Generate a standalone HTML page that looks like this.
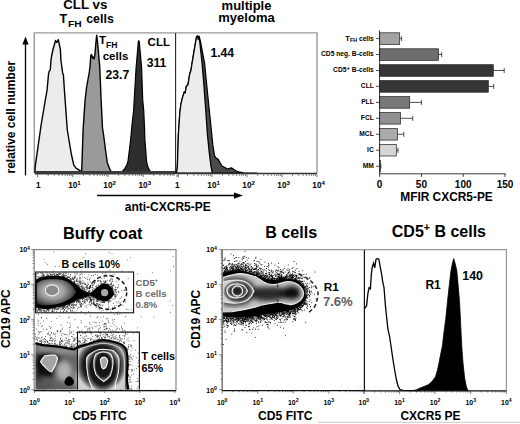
<!DOCTYPE html>
<html><head><meta charset="utf-8"><style>html,body{margin:0;padding:0;background:#fff;width:520px;height:424px;overflow:hidden}svg{display:block}svg text{font-family:"Liberation Sans",sans-serif}</style></head><body>
<svg width="520" height="424" viewBox="0 0 520 424">
<rect width="520" height="424" fill="#fff"/>
<g font-family="Liberation Sans, sans-serif" font-weight="bold">
<text x="85.3" y="9.4" font-size="13.30" text-anchor="middle" fill="#000" >CLL vs</text>
<text x="59.6" y="22.5" font-size="12.6" font-family="Liberation Sans, sans-serif" font-weight="bold">T</text><text x="68" y="26.8" font-size="9.6" font-family="Liberation Sans, sans-serif" font-weight="bold" textLength="13.6" lengthAdjust="spacingAndGlyphs">FH</text><text x="86.2" y="22.5" font-size="12.6" font-family="Liberation Sans, sans-serif" font-weight="bold" textLength="27.6" lengthAdjust="spacingAndGlyphs">cells</text>
<text x="246.5" y="9.5" font-size="13.00" text-anchor="middle" fill="#000" >multiple</text>
<text x="246.5" y="22.1" font-size="13.00" text-anchor="middle" fill="#000" >myeloma</text>
<text transform="translate(14.9,173.5) rotate(-90)" font-size="12" font-family="Liberation Sans, sans-serif" font-weight="bold">relative cell number</text>
<path d="M25.5 43v132.4" stroke="#000" stroke-width="1.3"/>
<path d="M22.4 44.5L25.5 36.4L28.6 44.5Z" fill="#000"/>
<path d="M34.3 173V32.9H317V173" fill="none" stroke="#999" stroke-width="1.4"/>
<polygon points="35.0,172.8 35.0,169.8 35.5,164.3 40.4,130.0 41.2,124.5 45.3,100.0 47.1,90.0 48.5,74.2 49.2,71.3 50.3,69.9 51.0,60.0 51.6,56.0 53.0,49.5 55.6,40.5 56.8,42.5 58.3,39.6 60.4,49.5 60.9,60.0 62.1,69.0 62.6,72.7 63.4,74.9 64.4,90.0 65.2,101.0 67.3,130.0 71.4,154.5 73.8,165.1 76.0,168.2 80.4,170.8 81.0,172.8" fill="#ececec" stroke="#000" stroke-width="1.4" stroke-linejoin="round"/>
<polygon points="81.4,172.8 81.7,170.8 83.1,130.0 84.0,116.0 85.1,100.0 86.5,88.0 88.4,77.0 88.8,75.5 89.3,72.0 90.1,66.0 90.8,55.4 91.6,54.6 92.5,58.0 93.3,57.1 94.2,58.8 95.0,53.7 95.9,42.7 96.7,35.1 97.6,42.7 98.3,50.0 98.8,57.1 99.7,66.0 100.3,80.0 101.1,100.0 102.5,128.0 103.6,135.0 105.5,150.0 107.3,162.7 109.8,169.2 111.1,171.5 112.0,172.8" fill="#9a9a9a" stroke="#000" stroke-width="1.4" stroke-linejoin="round"/>
<polygon points="121.0,172.8 124.8,168.6 127.0,164.5 128.0,161.2 129.4,150.0 130.6,140.0 132.0,125.0 133.7,110.0 134.2,100.0 136.1,67.7 138.3,42.0 138.8,40.6 139.3,42.0 141.6,67.7 142.7,100.0 143.7,110.0 144.4,125.0 144.9,140.0 145.7,150.0 146.5,161.2 147.3,165.0 148.6,168.6 151.0,172.8" fill="#2e2e2e" stroke="#000" stroke-width="1.2" stroke-linejoin="round"/>
<path d="M35 172.7H175.5" stroke="#3a3a3a" stroke-width="3.4"/>
<path d="M175.6 32.9V174" stroke="#222" stroke-width="1.1"/>
<polygon points="176.3,173.2 177.3,168.0 178.4,134.3 179.8,113.0 180.9,104.2 182.6,97.1 184.4,91.8 185.2,93.0 186.2,86.5 188.0,84.7 189.7,74.0 191.0,70.0 192.6,59.9 195.0,45.7 196.5,37.0 197.5,35.8 198.3,39.5 199.2,36.4 201.0,44.0 204.6,63.4 207.4,91.8 210.3,120.1 212.8,144.9 214.5,155.6 216.0,158.0 218.0,159.1 220.0,162.5 222.0,166.0 225.0,167.5 227.1,169.0 231.4,167.8 235.7,170.8 240.0,172.2 244.4,173.0 256.5,173.2" fill="#4a4a4a" stroke="#000" stroke-width="1.2" stroke-linejoin="round"/>
<polygon points="176.3,173.2 177.3,168.0 178.4,134.3 179.8,113.0 180.9,104.2 182.6,97.1 184.4,91.8 185.2,93.0 186.2,86.5 188.0,84.7 189.7,74.0 191.0,70.0 192.6,59.9 195.0,45.7 196.5,37.0 197.5,35.8 198.3,39.5 199.2,36.4 200.0,44.0 202.1,63.4 203.9,84.7 205.7,109.5 207.4,134.3 209.2,152.0 211.0,166.2 212.3,173.2" fill="#ececec" stroke="#000" stroke-width="1.3" stroke-linejoin="round"/>
<path d="M176 173.4H317" stroke="#333" stroke-width="1.5"/>
<text x="98.9" y="44.2" font-size="11.5" font-family="Liberation Sans, sans-serif" font-weight="bold">T<tspan font-size="8.6" dy="4">FH</tspan></text>
<text x="115.5" y="59.8" font-size="11.50" text-anchor="middle" fill="#000" >cells</text>
<text x="117.4" y="79.4" font-size="12.20" text-anchor="middle" fill="#000" >23.7</text>
<text x="158.8" y="45.6" font-size="11.50" text-anchor="middle" fill="#000" >CLL</text>
<text x="156.5" y="66.5" font-size="12.20" text-anchor="middle" fill="#000" >311</text>
<text x="222.3" y="57.0" font-size="12.20" text-anchor="middle" fill="#000" >1.44</text>
<path d="M37.60 174.40v2.80M48.20 174.40v1.50M54.39 174.40v1.50M58.79 174.40v1.50M62.20 174.40v1.50M64.99 174.40v1.50M67.35 174.40v1.50M69.39 174.40v1.50M71.19 174.40v1.50M72.80 174.40v2.80M83.40 174.40v1.50M89.59 174.40v1.50M93.99 174.40v1.50M97.40 174.40v1.50M100.19 174.40v1.50M102.55 174.40v1.50M104.59 174.40v1.50M106.39 174.40v1.50M108.00 174.40v2.80M118.60 174.40v1.50M124.79 174.40v1.50M129.19 174.40v1.50M132.60 174.40v1.50M135.39 174.40v1.50M137.75 174.40v1.50M139.79 174.40v1.50M141.59 174.40v1.50M143.20 174.40v2.80M153.80 174.40v1.50M159.99 174.40v1.50M164.39 174.40v1.50M167.80 174.40v1.50M170.59 174.40v1.50M172.95 174.40v1.50M174.99 174.40v1.50M176.79 174.40v1.50M178.40 174.40v2.80" stroke="#333" stroke-width="0.70" fill="none"/>
<rect x="175" y="174" width="2" height="4" fill="#fff"/>
<path d="M177.00 174.40v2.80M187.54 174.40v1.50M193.70 174.40v1.50M198.07 174.40v1.50M201.46 174.40v1.50M204.24 174.40v1.50M206.58 174.40v1.50M208.61 174.40v1.50M210.40 174.40v1.50M212.00 174.40v2.80M222.54 174.40v1.50M228.70 174.40v1.50M233.07 174.40v1.50M236.46 174.40v1.50M239.24 174.40v1.50M241.58 174.40v1.50M243.61 174.40v1.50M245.40 174.40v1.50M247.00 174.40v2.80M257.54 174.40v1.50M263.70 174.40v1.50M268.07 174.40v1.50M271.46 174.40v1.50M274.24 174.40v1.50M276.58 174.40v1.50M278.61 174.40v1.50M280.40 174.40v1.50M282.00 174.40v2.80M292.54 174.40v1.50M298.70 174.40v1.50M303.07 174.40v1.50M306.46 174.40v1.50M309.24 174.40v1.50M311.58 174.40v1.50M313.61 174.40v1.50M315.40 174.40v1.50M317.00 174.40v2.80" stroke="#333" stroke-width="0.70" fill="none"/>
<text x="74.4" y="188.2" font-size="8.20" text-anchor="middle" font-family="Liberation Sans, sans-serif" font-weight="bold">10<tspan dy="-3.3" font-size="6.15">1</tspan></text>
<text x="109.6" y="188.2" font-size="8.20" text-anchor="middle" font-family="Liberation Sans, sans-serif" font-weight="bold">10<tspan dy="-3.3" font-size="6.15">2</tspan></text>
<text x="144.8" y="188.2" font-size="8.20" text-anchor="middle" font-family="Liberation Sans, sans-serif" font-weight="bold">10<tspan dy="-3.3" font-size="6.15">3</tspan></text>
<text x="38.2" y="188.2" font-size="8.20" text-anchor="middle" fill="#000" >1</text>
<text x="213.6" y="188.2" font-size="8.20" text-anchor="middle" font-family="Liberation Sans, sans-serif" font-weight="bold">10<tspan dy="-3.3" font-size="6.15">1</tspan></text>
<text x="248.6" y="188.2" font-size="8.20" text-anchor="middle" font-family="Liberation Sans, sans-serif" font-weight="bold">10<tspan dy="-3.3" font-size="6.15">2</tspan></text>
<text x="283.6" y="188.2" font-size="8.20" text-anchor="middle" font-family="Liberation Sans, sans-serif" font-weight="bold">10<tspan dy="-3.3" font-size="6.15">3</tspan></text>
<text x="318.6" y="188.2" font-size="8.20" text-anchor="middle" font-family="Liberation Sans, sans-serif" font-weight="bold">10<tspan dy="-3.3" font-size="6.15">4</tspan></text>
<text x="177.4" y="188.2" font-size="8.20" text-anchor="middle" fill="#000" >1</text>
<path d="M97 195.6H236" stroke="#000" stroke-width="1.5"/>
<path d="M234 192.4L243 195.6L234 198.8Z" fill="#000"/>
<text x="167.8" y="210.5" font-size="12.00" text-anchor="middle" fill="#000" >anti-CXCR5-PE</text>
<rect x="379.6" y="32.8" width="20.1" height="11.6" fill="#a2a2a2" stroke="#222" stroke-width="0.7"/>
<path d="M399.7 38.6H401.6M401.6 36.1v5.0" stroke="#222" stroke-width="0.8"/>
<path d="M376 38.6H379.6" stroke="#222" stroke-width="0.8"/>
<text x="373.8" y="40.5" font-size="6.7" text-anchor="end" font-family="Liberation Sans, sans-serif" font-weight="bold"><tspan font-size="7.6">T</tspan><tspan font-size="5.4" dy="1.9">FH</tspan><tspan dy="-1.9"> cells</tspan></text>
<rect x="379.6" y="48.8" width="58.9" height="11.6" fill="#6e6e6e" stroke="#222" stroke-width="0.7"/>
<path d="M438.5 54.5H441.7M441.7 52.0v5.0" stroke="#222" stroke-width="0.8"/>
<path d="M376 54.5H379.6" stroke="#222" stroke-width="0.8"/>
<text x="373.8" y="56.4" font-size="6.7" text-anchor="end" font-family="Liberation Sans, sans-serif" font-weight="bold">CD5 neg. B-cells</text>
<rect x="379.6" y="64.7" width="113.7" height="11.6" fill="#363636" stroke="#222" stroke-width="0.7"/>
<path d="M493.3 70.5H504.2M504.2 68.0v5.0" stroke="#222" stroke-width="0.8"/>
<path d="M376 70.5H379.6" stroke="#222" stroke-width="0.8"/>
<text x="373.8" y="72.4" font-size="6.7" text-anchor="end" font-family="Liberation Sans, sans-serif" font-weight="bold">CD5<tspan font-size="6" dy="-2.4">+</tspan><tspan dy="2.4"> B-cells</tspan></text>
<rect x="379.6" y="80.6" width="108.7" height="11.6" fill="#363636" stroke="#222" stroke-width="0.7"/>
<path d="M488.3 86.4H493.7M493.7 83.9v5.0" stroke="#222" stroke-width="0.8"/>
<path d="M376 86.4H379.6" stroke="#222" stroke-width="0.8"/>
<text x="373.8" y="88.3" font-size="6.7" text-anchor="end" font-family="Liberation Sans, sans-serif" font-weight="bold">CLL</text>
<rect x="379.6" y="96.6" width="30.1" height="11.6" fill="#787878" stroke="#222" stroke-width="0.7"/>
<path d="M409.7 102.4H421.4M421.4 99.9v5.0" stroke="#222" stroke-width="0.8"/>
<path d="M376 102.4H379.6" stroke="#222" stroke-width="0.8"/>
<text x="373.8" y="104.3" font-size="6.7" text-anchor="end" font-family="Liberation Sans, sans-serif" font-weight="bold">PLL</text>
<rect x="379.6" y="112.5" width="20.9" height="11.6" fill="#909090" stroke="#222" stroke-width="0.7"/>
<path d="M400.5 118.3H412.7M412.7 115.8v5.0" stroke="#222" stroke-width="0.8"/>
<path d="M376 118.3H379.6" stroke="#222" stroke-width="0.8"/>
<text x="373.8" y="120.2" font-size="6.7" text-anchor="end" font-family="Liberation Sans, sans-serif" font-weight="bold">FCL</text>
<rect x="379.6" y="128.5" width="18.0" height="11.6" fill="#aaaaaa" stroke="#222" stroke-width="0.7"/>
<path d="M397.6 134.3H403.8M403.8 131.8v5.0" stroke="#222" stroke-width="0.8"/>
<path d="M376 134.3H379.6" stroke="#222" stroke-width="0.8"/>
<text x="373.8" y="136.2" font-size="6.7" text-anchor="end" font-family="Liberation Sans, sans-serif" font-weight="bold">MCL</text>
<rect x="379.6" y="144.4" width="16.7" height="11.6" fill="#d6d6d6" stroke="#222" stroke-width="0.7"/>
<path d="M396.3 150.2H398.0M398.0 147.8v5.0" stroke="#222" stroke-width="0.8"/>
<path d="M376 150.2H379.6" stroke="#222" stroke-width="0.8"/>
<text x="373.8" y="152.2" font-size="6.7" text-anchor="end" font-family="Liberation Sans, sans-serif" font-weight="bold">IC</text>
<rect x="379.6" y="160.4" width="1.0" height="11.6" fill="#eee" stroke="#222" stroke-width="0.7"/>
<path d="M380.6 166.2H380.9M380.9 163.7v5.0" stroke="#222" stroke-width="0.8"/>
<path d="M376 166.2H379.6" stroke="#222" stroke-width="0.8"/>
<text x="373.8" y="168.1" font-size="6.7" text-anchor="end" font-family="Liberation Sans, sans-serif" font-weight="bold">MM</text>
<path d="M379.6 30.4V173.8H505.6" fill="none" stroke="#222" stroke-width="0.9"/>
<path d="M379.6 173.8v3" stroke="#222" stroke-width="0.9"/>
<text x="379.6" y="187.6" font-size="10.00" text-anchor="middle" fill="#000" >0</text>
<path d="M421.4 173.8v3" stroke="#222" stroke-width="0.9"/>
<text x="421.4" y="187.6" font-size="10.00" text-anchor="middle" fill="#000" >50</text>
<path d="M463.2 173.8v3" stroke="#222" stroke-width="0.9"/>
<text x="463.2" y="187.6" font-size="10.00" text-anchor="middle" fill="#000" >100</text>
<path d="M505.0 173.8v3" stroke="#222" stroke-width="0.9"/>
<text x="505.0" y="187.6" font-size="10.00" text-anchor="middle" fill="#000" >150</text>
<text x="446.5" y="201.3" font-size="11.90" text-anchor="middle" fill="#000" >MFIR CXCR5-PE</text>
<text x="102.7" y="238.5" font-size="16.30" text-anchor="middle" fill="#000" >Buffy coat</text>
<text transform="translate(9.8,347.9) rotate(-90)" font-size="11.9" font-family="Liberation Sans, sans-serif" font-weight="bold">CD19 APC</text>
<text x="99.6" y="420.0" font-size="12.10" text-anchor="middle" fill="#000" >CD5 FITC</text>
<text x="285.3" y="420.0" font-size="12.10" text-anchor="middle" fill="#000" >CD5 FITC</text>
<text transform="translate(200.3,348.3) rotate(-90)" font-size="11.9" font-family="Liberation Sans, sans-serif" font-weight="bold">CD19 APC</text>
<text x="430.4" y="419.6" font-size="12.00" text-anchor="middle" fill="#000" >CXCR5 PE</text>
<text x="291.2" y="238.3" font-size="16.10" text-anchor="middle" fill="#000" >B cells</text>
<text x="391.8" y="236.8" font-size="16" font-family="Liberation Sans, sans-serif" font-weight="bold">CD5<tspan font-size="10.5" dy="-5.8">+</tspan><tspan dy="5.8"> B cells</tspan></text>
<rect x="34.2" y="249.6" width="141.8" height="140.9" fill="none" stroke="#888" stroke-width="1.2"/>
<path d="M34.2 390.6H176" stroke="#111" stroke-width="1.3"/>
<path d="M222.2 391V249.6H506.4V391" fill="none" stroke="#999" stroke-width="1.2"/>
<path d="M318 422.3H520" stroke="#c4c4c4" stroke-width="0.9"/>
<defs>
<radialGradient id="gL" cx="0.3" cy="0.5" r="0.62"><stop offset="0" stop-color="#c4c4c4"/><stop offset="0.3" stop-color="#a0a0a0"/><stop offset="0.62" stop-color="#555"/><stop offset="0.85" stop-color="#1c1c1c"/><stop offset="1" stop-color="#000"/></radialGradient>
<radialGradient id="gLow" cx="0.5" cy="0.55" r="0.6"><stop offset="0" stop-color="#9a9a9a"/><stop offset="0.7" stop-color="#5a5a5a"/><stop offset="1" stop-color="#222"/></radialGradient>
<radialGradient id="gT" cx="0.5" cy="0.45" r="0.55"><stop offset="0" stop-color="#a0a0a0"/><stop offset="0.6" stop-color="#555"/><stop offset="1" stop-color="#202020"/></radialGradient>
<radialGradient id="gR" cx="0.5" cy="0.5" r="0.5"><stop offset="0" stop-color="#333"/><stop offset="0.6" stop-color="#666"/><stop offset="1" stop-color="#bbb"/></radialGradient>
<radialGradient id="gBl" cx="0.45" cy="0.5" r="0.6"><stop offset="0" stop-color="#c8c8c8"/><stop offset="0.55" stop-color="#8a8a8a"/><stop offset="1" stop-color="#3a3a3a"/></radialGradient>
<radialGradient id="sc" cx="0.5" cy="0.5" r="0.5"><stop offset="0" stop-color="#1c1c1c"/><stop offset="0.6" stop-color="#2a2a2a"/><stop offset="0.85" stop-color="#6a6a6a"/><stop offset="1" stop-color="#d0d0d0"/></radialGradient>
<radialGradient id="sc2" cx="0.5" cy="0.5" r="0.5"><stop offset="0" stop-color="#2a2a2a"/><stop offset="0.5" stop-color="#555"/><stop offset="0.85" stop-color="#aaa"/><stop offset="1" stop-color="#ccc" stop-opacity="0"/></radialGradient>
<radialGradient id="sc3" cx="0.5" cy="0.45" r="0.55"><stop offset="0" stop-color="#111"/><stop offset="0.7" stop-color="#181818"/><stop offset="0.86" stop-color="#666"/><stop offset="1" stop-color="#d0d0d0"/></radialGradient>
<filter id="bl3" x="-20%" y="-20%" width="140%" height="140%"><feGaussianBlur stdDeviation="2.6"/></filter>
<filter id="bl1" x="-20%" y="-20%" width="140%" height="140%"><feGaussianBlur stdDeviation="1.2"/></filter>
<radialGradient id="gUL" cx="0.4" cy="0.45" r="0.6"><stop offset="0" stop-color="#b8b8b8"/><stop offset="0.45" stop-color="#a6a6a6"/><stop offset="0.75" stop-color="#6a6a6a"/><stop offset="1" stop-color="#2a2a2a"/></radialGradient>
</defs>
<path d="M71.1 302.6h0.8M80.6 288.2h0.8M43.2 310.1h0.8M36.7 307.2h0.8M79.9 274.5h0.8M51.9 274.3h0.8M37.7 273.0h0.8M65.8 273.3h0.8M60.2 306.5h0.8M39.0 309.5h0.8M70.1 306.8h0.8M94.7 293.6h0.8M41.6 273.7h0.8M80.4 286.9h0.8M73.1 278.7h0.8M106.7 299.0h0.8M75.6 301.2h0.8M75.4 300.1h0.8M39.4 278.1h0.8M87.9 292.4h0.8M77.6 286.0h0.8M50.1 274.0h0.8M100.7 290.1h0.8M82.7 301.6h0.8M73.8 278.3h0.8M80.6 307.4h0.8M105.1 289.2h0.8M51.0 276.5h0.8M37.7 273.8h0.8M68.0 279.6h0.8M72.9 305.1h0.8M40.0 277.2h0.8M95.9 305.6h0.8M99.1 304.3h0.8M101.7 300.2h0.8M61.9 305.5h0.8M64.9 273.0h0.8M71.4 305.4h0.8M94.4 293.0h0.8M80.1 305.1h0.8M101.0 287.3h0.8M79.4 304.2h0.8M67.5 277.8h0.8M66.9 305.1h0.8M35.6 273.8h0.8M63.1 273.7h0.8M86.8 289.8h0.8M66.4 307.8h0.8M62.2 275.0h0.8M39.5 308.0h0.8M54.8 307.1h0.8M77.6 285.4h0.8M54.1 275.5h0.8M48.0 309.3h0.8M70.1 278.6h0.8M50.3 308.8h0.8M63.2 311.7h0.8M64.9 305.6h0.8M73.6 282.1h0.8M91.6 291.4h0.8M100.7 289.4h0.8M92.7 296.9h0.8M40.6 309.9h0.8M81.8 274.4h0.8M87.5 277.2h0.8M98.3 305.0h0.8M74.7 277.8h0.8M65.0 308.5h0.8M59.2 308.1h0.8M81.7 282.9h0.8M37.4 307.5h0.8M68.5 305.7h0.8M98.5 286.1h0.8M72.6 312.0h0.8M57.3 274.8h0.8M90.9 275.4h0.8M52.8 274.1h0.8M76.0 304.5h0.8M54.3 311.1h0.8M82.4 283.3h0.8M43.8 276.0h0.8M86.2 299.5h0.8M80.2 298.3h0.8M52.9 307.9h0.8M74.2 273.2h0.8M80.5 283.4h0.8M91.1 299.3h0.8M68.5 305.7h0.8M70.2 310.4h0.8M85.8 286.5h0.8M54.6 309.0h0.8M60.3 277.2h0.8M35.1 308.3h0.8M63.1 306.7h0.8M81.4 298.2h0.8M63.2 274.2h0.8M48.9 309.2h0.8M73.6 301.3h0.8M98.3 292.4h0.8M107.3 299.3h0.8M76.5 302.7h0.8M96.0 291.6h0.8M45.1 311.3h0.8M88.0 311.7h0.8M56.3 276.4h0.8M68.3 279.7h0.8M85.4 291.2h0.8M63.5 276.9h0.8M80.2 304.0h0.8M84.4 302.5h0.8M64.5 274.9h0.8M68.5 303.9h0.8M73.5 279.6h0.8M51.5 274.8h0.8M82.0 283.7h0.8M75.6 284.5h0.8M102.1 287.5h0.8M96.6 291.7h0.8M47.3 274.5h0.8M58.4 273.7h0.8M46.5 310.1h0.8M72.9 304.1h0.8M78.6 285.6h0.8M76.0 301.8h0.8M57.8 273.9h0.8M66.5 307.2h0.8M77.6 285.5h0.8M78.6 300.7h0.8M61.0 277.2h0.8M87.5 297.7h0.8M63.6 276.7h0.8M63.1 276.2h0.8M46.3 276.4h0.8M40.5 308.3h0.8M80.7 286.7h0.8M55.0 276.2h0.8M79.0 281.7h0.8M81.7 288.7h0.8M78.6 282.2h0.8M99.0 287.2h0.8M68.5 308.6h0.8M89.9 282.0h0.8M35.3 288.8h0.8M96.6 303.2h0.8M90.0 293.3h0.8M89.3 290.3h0.8M80.4 283.6h0.8M62.1 276.2h0.8M74.5 280.6h0.8M35.2 297.4h0.8M87.3 286.0h0.8M69.4 308.6h0.8M53.8 276.7h0.8M102.2 294.6h0.8M66.2 278.6h0.8M62.4 277.0h0.8M74.8 305.3h0.8M36.6 280.1h0.8M56.1 311.4h0.8M90.7 295.3h0.8M80.6 306.4h0.8M86.7 297.1h0.8M88.5 291.6h0.8M61.8 307.8h0.8M78.8 287.3h0.8M82.9 283.1h0.8M81.9 289.3h0.8M94.9 294.5h0.8M46.2 311.3h0.8M80.7 306.3h0.8M76.5 302.3h0.8M100.9 296.1h0.8M55.7 309.2h0.8M85.7 290.3h0.8M74.0 275.9h0.8M46.3 309.0h0.8M42.5 275.5h0.8M92.8 293.2h0.8M55.1 275.7h0.8M78.1 284.9h0.8M96.5 291.2h0.8M56.4 275.0h0.8M58.9 274.2h0.8M69.9 303.8h0.8M44.7 277.1h0.8M44.5 311.8h0.8M85.5 299.4h0.8M60.1 311.5h0.8M101.7 297.4h0.8M40.0 277.9h0.8M38.7 307.8h0.8M61.0 276.1h0.8M83.7 287.9h0.8M53.2 274.5h0.8M73.6 305.1h0.8M44.1 311.2h0.8M101.3 297.9h0.8M41.5 277.2h0.8M104.8 295.6h0.8M91.0 296.9h0.8M77.3 299.8h0.8M81.3 312.0h0.8M76.3 301.3h0.8M63.7 306.6h0.8M78.2 300.3h0.8M52.3 276.0h0.8M35.3 282.0h0.8M47.1 309.1h0.8M85.0 297.3h0.8M115.0 289.5h0.8M91.9 291.9h0.8M73.8 301.0h0.8M48.7 308.2h0.8M54.2 274.6h0.8M71.3 305.6h0.8M62.4 276.0h0.8M57.2 306.7h0.8M86.6 288.2h0.8M96.4 293.4h0.8M77.2 284.9h0.8M72.7 307.3h0.8M70.4 279.2h0.8M95.8 291.8h0.8M84.1 290.0h0.8M70.6 307.4h0.8M55.7 276.2h0.8M63.3 307.5h0.8M96.3 285.3h0.8M69.2 277.5h0.8M42.0 273.4h0.8M40.7 311.4h0.8M36.9 310.7h0.8M67.0 306.7h0.8M47.9 308.8h0.8M49.3 276.3h0.8M72.0 277.3h0.8M75.3 276.2h0.8M59.7 273.7h0.8M70.0 276.0h0.8M64.5 310.3h0.8M74.1 282.7h0.8M71.9 305.0h0.8M47.6 308.6h0.8M102.0 292.1h0.8M71.4 279.3h0.8M55.6 274.1h0.8M52.2 311.5h0.8M100.7 293.3h0.8M79.4 275.1h0.8M117.3 287.8h0.8M103.2 287.1h0.8M65.3 275.7h0.8M66.1 275.7h0.8M40.1 272.9h0.8M88.4 297.7h0.8M68.2 279.8h0.8M99.0 288.5h0.8M42.9 275.4h0.8M37.6 279.1h0.8M90.5 296.8h0.8M98.6 307.2h0.8M95.7 307.3h0.8M89.2 280.0h0.8M36.5 276.5h0.8M47.2 272.8h0.8M83.2 303.8h0.8M88.0 292.5h0.8M42.4 274.8h0.8M38.2 308.1h0.8M55.6 308.7h0.8M74.2 302.3h0.8M87.7 287.7h0.8M63.3 308.5h0.8M57.4 275.0h0.8M37.2 279.5h0.8M79.9 281.9h0.8M38.5 277.3h0.8M67.3 306.4h0.8M91.8 283.0h0.8M76.7 278.4h0.8M75.5 281.8h0.8M81.3 303.7h0.8M72.4 302.8h0.8M36.5 307.3h0.8M73.8 282.0h0.8M79.2 287.8h0.8M67.5 304.3h0.8M98.0 288.3h0.8M74.3 283.5h0.8M79.6 277.5h0.8M50.6 275.5h0.8M79.4 302.4h0.8M83.0 298.3h0.8M54.2 276.0h0.8M63.8 309.8h0.8M102.7 297.7h0.8M105.8 298.0h0.8M91.4 295.7h0.8M96.4 294.1h0.8M87.5 292.3h0.8M76.2 280.2h0.8M100.0 299.1h0.8M38.0 279.6h0.8M91.6 292.6h0.8M46.8 309.9h0.8M35.8 274.8h0.8M58.9 274.3h0.8M36.5 311.1h0.8M96.2 294.5h0.8M62.3 277.1h0.8M84.3 301.6h0.8M98.4 292.4h0.8M51.7 309.2h0.8M43.7 276.7h0.8M52.8 308.2h0.8M100.7 294.3h0.8M64.6 275.2h0.8M85.4 291.7h0.8M102.2 291.7h0.8M93.2 303.0h0.8M94.5 301.8h0.8M67.5 308.2h0.8M36.9 280.0h0.8M96.9 304.7h0.8M67.7 277.0h0.8M100.8 293.7h0.8M40.7 309.8h0.8M58.7 276.4h0.8M99.4 298.5h0.8M50.7 275.5h0.8M82.7 298.6h0.8M68.3 305.2h0.8M63.7 310.8h0.8M93.1 302.5h0.8M71.5 304.0h0.8M89.8 292.9h0.8M60.6 307.7h0.8M97.5 298.1h0.8M62.4 309.1h0.8M40.0 278.0h0.8M76.1 285.1h0.8M57.5 276.3h0.8M72.1 305.1h0.8M45.6 276.6h0.8M65.0 307.3h0.8M97.6 301.5h0.8M86.3 285.4h0.8M70.6 280.3h0.8M80.8 305.5h0.8M41.1 311.1h0.8M93.9 295.1h0.8M69.1 304.2h0.8M98.8 300.0h0.8M67.7 277.2h0.8M51.6 273.0h0.8M76.8 283.4h0.8M48.0 275.5h0.8M100.4 289.5h0.8M81.9 304.3h0.8M78.9 278.0h0.8M79.5 279.0h0.8M38.5 309.2h0.8M75.5 283.8h0.8M93.5 288.5h0.8M94.6 291.9h0.8M86.1 307.5h0.8M65.0 305.7h0.8M93.5 299.5h0.8M98.3 295.6h0.8M77.6 283.6h0.8M67.5 309.6h0.8M49.6 308.2h0.8M60.2 276.9h0.8M52.3 307.9h0.8M85.2 283.9h0.8M43.2 275.1h0.8M63.8 275.8h0.8M78.4 302.0h0.8M94.0 283.2h0.8M78.3 300.8h0.8M79.6 282.6h0.8M76.6 300.3h0.8M88.5 288.6h0.8M81.5 286.0h0.8M46.6 274.8h0.8M59.8 274.4h0.8M75.4 304.9h0.8M88.6 296.4h0.8M81.3 286.8h0.8M101.6 293.3h0.8M83.5 297.3h0.8M87.0 299.2h0.8M78.7 307.5h0.8M36.4 307.6h0.8M69.2 304.9h0.8M87.1 285.7h0.8M82.3 298.4h0.8M104.0 275.4h0.8M83.4 288.0h0.8M100.9 278.7h0.8M108.4 295.2h0.8M83.7 288.7h0.8M50.0 274.6h0.8M87.5 296.9h0.8M35.1 304.9h0.8M67.1 276.7h0.8M91.5 293.5h0.8M85.6 299.6h0.8M62.6 307.3h0.8M64.8 277.2h0.8M81.7 290.3h0.8M79.4 302.2h0.8M83.5 300.9h0.8M42.8 308.4h0.8M62.8 276.6h0.8M38.2 307.3h0.8M99.9 292.6h0.8M82.2 288.2h0.8M89.0 301.7h0.8M48.4 275.1h0.8M38.7 276.9h0.8M80.2 298.8h0.8M56.7 275.7h0.8M84.5 289.8h0.8M100.4 290.5h0.8M65.7 306.2h0.8M74.4 312.0h0.8M53.9 309.3h0.8M79.0 298.8h0.8M54.6 308.1h0.8M86.9 288.0h0.8M69.6 278.3h0.8M82.9 290.0h0.8M73.0 279.6h0.8M80.6 304.5h0.8M73.3 308.4h0.8M63.8 309.5h0.8M42.6 276.2h0.8M91.6 284.3h0.8M60.8 273.6h0.8M94.8 290.8h0.8M79.7 281.9h0.8M73.8 281.4h0.8M66.0 277.7h0.8M72.2 278.5h0.8M77.5 300.6h0.8M90.7 302.3h0.8M53.7 308.1h0.8M39.6 308.7h0.8M86.1 297.0h0.8M80.1 281.0h0.8M89.1 290.5h0.8M98.5 299.1h0.8M72.2 302.3h0.8M84.7 303.2h0.8M57.4 274.6h0.8M38.4 308.8h0.8M98.1 306.5h0.8M68.6 304.5h0.8M89.5 297.5h0.8M99.2 297.3h0.8M76.8 273.4h0.8M43.8 308.6h0.8M37.6 276.8h0.8M107.4 287.6h0.8M47.6 312.2h0.8M82.7 280.9h0.8M67.1 277.6h0.8M40.9 276.7h0.8M78.8 300.2h0.8M78.3 301.6h0.8M89.8 287.0h0.8M79.1 298.8h0.8M91.8 285.1h0.8M72.1 310.3h0.8M50.5 276.6h0.8M36.2 306.7h0.8M81.5 287.1h0.8M86.6 305.3h0.8M56.8 309.3h0.8M75.9 279.9h0.8M96.7 297.3h0.8M35.2 293.1h0.8M84.3 289.2h0.8M94.6 281.7h0.8M70.3 274.4h0.8M80.0 284.7h0.8M85.1 301.7h0.8M82.1 287.8h0.8M38.6 278.9h0.8M79.7 283.0h0.8M52.6 311.1h0.8M43.7 310.1h0.8M62.3 306.5h0.8M89.0 301.9h0.8M109.5 286.7h0.8M81.5 298.7h0.8M89.9 297.5h0.8M57.7 309.7h0.8M35.3 297.8h0.8M87.5 282.7h0.8M102.9 292.1h0.8M43.6 274.8h0.8M91.6 293.5h0.8M72.9 306.7h0.8M84.7 306.2h0.8M85.5 287.5h0.8M38.6 278.5h0.8M52.2 308.7h0.8M51.8 275.8h0.8M66.8 311.3h0.8M99.8 288.3h0.8M36.0 307.1h0.8M107.3 300.0h0.8M101.6 284.6h0.8M93.6 292.7h0.8M74.4 277.4h0.8M44.2 310.7h0.8M42.3 310.3h0.8M97.4 288.0h0.8M100.5 281.9h0.8M64.6 305.5h0.8M92.2 295.9h0.8M48.8 275.8h0.8M43.4 311.2h0.8M76.5 310.8h0.8M77.0 301.0h0.8M61.4 309.2h0.8M97.7 290.5h0.8M64.1 307.4h0.8M81.5 285.1h0.8M99.8 294.7h0.8M90.5 304.5h0.8M69.0 280.0h0.8M71.3 307.5h0.8M59.6 307.4h0.8M85.9 300.0h0.8M36.3 279.9h0.8M63.6 306.5h0.8M60.6 307.7h0.8M71.6 311.2h0.8M60.2 309.8h0.8M72.9 301.4h0.8M73.6 307.1h0.8M66.7 306.6h0.8M64.1 278.1h0.8M84.1 302.3h0.8M91.9 289.3h0.8M53.6 276.3h0.8M100.8 298.2h0.8M91.2 296.8h0.8M85.8 298.0h0.8M99.4 287.0h0.8M81.9 286.3h0.8M61.2 306.9h0.8M93.5 304.1h0.8M79.2 284.2h0.8M64.2 306.1h0.8M76.3 281.5h0.8M47.6 309.3h0.8M87.6 298.6h0.8M39.5 309.0h0.8M63.1 275.5h0.8M49.7 308.7h0.8M37.5 279.4h0.8M109.7 294.3h0.8M96.7 297.0h0.8M51.6 308.0h0.8M77.4 281.4h0.8M98.4 296.7h0.8M62.1 274.1h0.8M81.3 306.3h0.8M100.1 291.3h0.8M63.4 276.9h0.8M82.6 297.4h0.8M113.0 292.3h0.8M79.7 301.7h0.8M81.9 276.9h0.8M95.5 291.5h0.8M79.9 302.3h0.8M82.3 290.5h0.8M78.3 307.0h0.8M85.5 278.5h0.8M47.5 276.2h0.8M61.1 306.0h0.8M77.2 279.8h0.8M35.4 301.6h0.8M62.7 308.8h0.8M62.4 305.9h0.8M77.5 286.4h0.8M74.1 281.9h0.8M75.8 306.1h0.8M88.5 304.3h0.8M92.0 290.4h0.8M38.9 311.2h0.8M58.3 307.5h0.8M88.9 279.5h0.8M78.1 299.8h0.8M98.6 298.3h0.8M39.4 310.2h0.8M48.5 310.8h0.8M69.8 279.1h0.8M80.0 306.1h0.8M103.8 278.4h0.8M74.2 277.9h0.8M36.8 273.7h0.8M48.6 308.6h0.8M41.9 308.3h0.8M45.5 273.0h0.8M80.4 298.1h0.8M35.2 302.0h0.8M69.6 304.8h0.8M109.6 280.8h0.8M64.0 277.8h0.8M69.6 303.2h0.8M84.1 299.2h0.8M39.7 278.5h0.8M68.9 277.2h0.8M45.9 310.0h0.8M115.3 297.2h0.8M99.8 288.4h0.8M38.1 279.4h0.8M56.3 275.9h0.8M38.1 309.3h0.8M73.0 304.1h0.8M78.2 285.9h0.8M55.9 274.2h0.8M89.4 295.8h0.8M98.4 290.7h0.8M70.0 280.7h0.8M89.7 297.2h0.8M78.9 280.9h0.8M103.6 302.1h0.8M48.8 273.4h0.8M86.5 287.3h0.8M85.0 291.5h0.8M78.9 301.2h0.8M45.5 308.8h0.8M84.1 277.6h0.8M38.5 277.3h0.8M80.2 278.1h0.8M48.1 310.2h0.8M92.3 290.0h0.8M82.0 301.5h0.8M35.2 276.9h0.8M88.4 296.6h0.8M87.7 284.4h0.8M98.4 285.8h0.8M98.7 309.5h0.8M73.5 302.4h0.8M94.8 293.5h0.8M99.2 308.2h0.8M76.6 281.2h0.8M98.5 307.5h0.8M62.6 277.3h0.8M91.8 303.6h0.8M37.9 309.3h0.8M73.8 277.6h0.8M63.1 307.8h0.8M56.3 274.6h0.8M52.0 310.5h0.8M42.1 277.0h0.8M82.4 290.1h0.8M84.2 284.2h0.8M35.6 306.8h0.8M57.9 275.6h0.8M58.3 308.3h0.8M61.8 277.0h0.8M40.5 310.9h0.8M98.2 293.1h0.8M71.4 280.8h0.8M56.7 309.4h0.8M102.4 284.1h0.8M82.8 288.7h0.8M58.4 275.9h0.8M36.5 311.0h0.8M46.8 275.4h0.8M66.9 278.6h0.8M81.2 303.2h0.8M53.8 273.5h0.8M69.2 304.7h0.8M62.4 308.1h0.8M57.0 274.8h0.8M91.9 292.6h0.8M43.6 308.9h0.8M42.0 308.2h0.8M74.8 277.2h0.8M46.1 276.0h0.8M71.4 279.1h0.8M36.9 309.7h0.8M38.4 308.4h0.8M38.0 308.4h0.8M86.5 288.2h0.8M72.4 282.1h0.8M50.1 274.9h0.8M46.2 308.6h0.8M70.0 311.4h0.8M77.1 301.4h0.8M51.6 309.0h0.8M94.1 283.7h0.8M79.1 286.7h0.8M95.3 291.5h0.8M73.7 282.4h0.8M96.1 286.5h0.8M74.1 301.1h0.8M92.4 287.0h0.8M88.5 274.9h0.8M50.8 275.2h0.8M39.3 307.4h0.8M35.2 294.2h0.8M105.8 281.9h0.8M66.2 311.4h0.8M80.9 273.3h0.8M40.2 309.2h0.8M109.4 286.4h0.8M52.5 311.3h0.8M53.5 276.6h0.8M84.8 284.4h0.8M74.3 304.6h0.8M42.8 273.9h0.8M83.8 298.3h0.8M80.7 298.1h0.8M56.3 276.7h0.8M97.0 303.6h0.8M105.6 288.2h0.8M84.8 297.6h0.8M92.1 297.8h0.8M36.1 278.1h0.8M91.0 292.6h0.8M77.7 285.5h0.8M62.7 312.0h0.8M66.3 311.0h0.8M96.0 294.8h0.8M86.1 296.2h0.8M43.1 275.3h0.8M36.9 311.9h0.8M97.7 280.4h0.8M82.3 299.6h0.8M68.7 305.6h0.8M48.6 311.0h0.8M35.9 308.8h0.8M55.2 307.9h0.8M71.8 278.3h0.8M79.7 299.8h0.8M97.7 281.2h0.8M36.2 280.1h0.8M81.1 297.8h0.8M77.5 300.2h0.8M54.9 276.3h0.8M73.1 307.6h0.8M91.3 283.4h0.8M101.6 290.2h0.8M58.1 308.5h0.8M47.7 310.4h0.8M85.2 284.4h0.8M96.4 307.0h0.8M80.7 311.6h0.8M53.7 308.4h0.8M43.4 276.2h0.8M63.5 306.7h0.8M36.1 279.1h0.8M57.4 308.7h0.8M72.4 279.3h0.8M77.6 281.0h0.8M85.9 286.8h0.8M56.6 309.2h0.8M84.5 300.4h0.8M76.9 300.7h0.8M62.0 306.1h0.8M70.0 309.8h0.8M100.5 301.5h0.8M110.9 286.5h0.8M63.3 277.2h0.8M106.2 298.6h0.8M67.8 307.9h0.8M38.6 310.2h0.8M68.0 274.1h0.8M73.4 283.1h0.8M55.5 307.7h0.8M107.4 293.5h0.8M77.1 308.6h0.8M64.6 277.2h0.8M96.0 290.8h0.8M54.0 309.6h0.8M84.9 296.7h0.8M40.9 275.9h0.8M75.7 274.1h0.8M51.1 311.3h0.8M68.3 277.2h0.8M93.9 293.3h0.8M78.5 303.0h0.8M41.5 272.8h0.8M59.0 273.3h0.8M82.3 299.8h0.8M78.6 286.9h0.8M82.0 298.2h0.8M104.2 291.3h0.8M77.4 286.5h0.8M84.0 283.1h0.8M93.4 302.8h0.8M71.1 304.2h0.8" stroke="#1a1a1a" stroke-width="0.8"/>
<path d="M98.3 305.3h0.8M105.6 274.8h0.8M111.1 288.0h0.8M116.2 289.4h0.8M107.5 283.4h0.8M93.6 295.6h0.8M100.0 308.0h0.8M86.4 292.6h0.8M117.5 287.7h0.8M102.6 305.0h0.8M99.8 283.7h0.8M113.7 290.7h0.8M92.4 299.3h0.8M98.4 301.2h0.8M120.3 305.3h0.8M110.4 279.4h0.8M111.9 307.6h0.8M100.7 310.9h0.8M90.8 287.6h0.8M97.2 299.3h0.8M94.7 292.1h0.8M108.3 284.5h0.8M110.0 309.6h0.8M91.2 303.6h0.8M123.8 290.5h0.8M117.9 284.5h0.8M89.4 293.4h0.8M98.2 300.1h0.8M101.0 284.2h0.8M93.2 297.0h0.8M115.0 296.6h0.8M97.9 299.2h0.8M88.9 296.8h0.8M105.1 281.0h0.8M112.3 286.8h0.8M95.2 286.8h0.8M106.7 310.2h0.8M112.2 288.5h0.8M93.0 293.4h0.8M115.7 281.4h0.8M104.4 301.9h0.8M117.4 302.8h0.8M110.0 280.0h0.8M96.6 299.5h0.8M93.1 301.6h0.8M113.0 294.6h0.8M86.9 279.4h0.8M113.4 293.4h0.8M114.7 298.6h0.8M105.5 309.0h0.8M97.8 300.0h0.8M100.2 305.6h0.8M94.5 292.0h0.8M95.3 274.5h0.8M116.0 293.0h0.8M112.1 288.1h0.8M104.2 302.4h0.8M110.5 284.0h0.8M111.1 283.3h0.8M101.9 302.3h0.8M94.5 289.0h0.8M109.0 300.9h0.8M93.9 304.3h0.8M88.3 291.0h0.8M126.1 290.2h0.8M97.6 288.0h0.8M90.4 295.7h0.8M118.2 311.9h0.8M101.2 283.5h0.8M109.4 274.9h0.8M114.1 289.8h0.8M94.6 282.0h0.8M93.3 300.3h0.8M90.5 295.2h0.8M112.3 309.4h0.8M121.3 290.8h0.8M92.1 296.1h0.8M105.0 280.9h0.8M118.4 301.0h0.8M90.3 305.2h0.8M96.7 305.2h0.8M102.1 306.0h0.8M115.6 291.5h0.8M87.6 294.9h0.8M102.9 283.4h0.8M93.9 282.3h0.8M93.2 295.5h0.8M95.5 291.4h0.8M116.1 296.1h0.8M112.5 285.5h0.8M99.7 302.8h0.8M119.4 303.1h0.8M117.8 277.7h0.8M108.4 306.2h0.8M123.8 289.9h0.8M93.4 290.7h0.8M105.5 283.2h0.8M94.7 290.0h0.8M100.5 283.9h0.8M94.4 296.2h0.8M94.9 296.7h0.8M103.7 281.3h0.8M114.9 290.6h0.8M87.9 292.1h0.8M118.4 280.1h0.8M111.9 287.5h0.8M96.7 303.8h0.8M95.6 289.7h0.8M127.7 278.4h0.8M84.7 297.4h0.8M102.4 283.4h0.8M102.7 302.4h0.8M86.4 292.9h0.8M117.9 291.5h0.8M110.8 282.0h0.8M107.3 300.7h0.8M108.0 302.5h0.8M113.6 274.3h0.8M114.0 296.8h0.8M87.5 294.5h0.8M97.3 299.7h0.8M88.7 299.5h0.8M111.6 298.3h0.8M113.6 294.8h0.8M108.3 307.8h0.8M93.1 299.1h0.8M95.9 303.4h0.8M94.5 290.6h0.8M113.8 292.8h0.8M112.3 309.4h0.8M118.7 292.7h0.8M99.2 304.5h0.8M95.2 280.6h0.8M87.9 295.2h0.8M127.6 309.7h0.8M125.4 287.8h0.8M113.5 285.9h0.8M90.1 292.9h0.8M101.4 302.4h0.8M114.8 294.2h0.8M102.7 310.5h0.8M104.1 283.2h0.8M94.8 297.9h0.8M110.6 312.0h0.8M111.8 279.1h0.8M120.4 302.9h0.8M106.6 300.6h0.8M105.3 281.7h0.8M103.2 281.1h0.8M89.1 297.0h0.8M95.7 290.0h0.8M98.0 284.8h0.8M108.0 304.0h0.8M103.2 302.5h0.8M87.8 284.5h0.8M114.0 306.1h0.8M93.1 275.5h0.8M116.8 294.8h0.8M93.1 294.3h0.8M108.7 301.2h0.8M97.2 299.0h0.8M96.2 287.7h0.8M96.4 298.4h0.8M102.0 302.1h0.8M94.2 300.1h0.8M100.5 285.7h0.8M125.9 309.2h0.8M96.7 300.4h0.8M90.4 299.5h0.8M89.8 291.3h0.8M107.5 284.5h0.8M92.6 285.6h0.8M101.1 281.7h0.8M104.4 275.3h0.8M92.4 297.3h0.8M101.6 301.6h0.8M111.9 286.7h0.8M115.1 287.3h0.8M92.1 292.6h0.8M112.6 284.9h0.8M84.6 289.8h0.8M100.2 280.9h0.8M103.7 302.2h0.8M88.5 293.5h0.8M98.8 306.9h0.8M97.0 298.9h0.8M114.5 295.6h0.8M89.9 278.0h0.8M107.4 300.6h0.8M109.7 284.9h0.8M113.6 294.8h0.8M115.5 292.5h0.8M112.0 279.9h0.8M91.7 293.3h0.8M107.6 301.4h0.8M94.7 291.7h0.8M119.8 298.5h0.8M115.0 287.9h0.8M109.4 284.2h0.8M94.8 292.3h0.8M90.1 301.3h0.8M89.2 302.7h0.8M112.8 299.5h0.8M91.4 302.7h0.8M90.5 300.4h0.8M113.5 294.4h0.8M110.9 278.2h0.8M99.6 280.6h0.8M92.5 294.9h0.8M114.7 291.3h0.8M87.3 288.0h0.8M112.9 285.2h0.8M96.5 300.8h0.8M122.5 305.3h0.8M105.1 282.0h0.8M108.9 300.9h0.8M115.7 302.0h0.8M104.4 282.4h0.8M97.5 281.3h0.8M110.3 300.8h0.8M91.5 292.7h0.8M91.2 296.0h0.8M96.4 305.2h0.8M96.3 301.3h0.8M93.0 297.2h0.8M121.0 297.2h0.8M105.9 300.9h0.8M106.9 300.8h0.8M96.8 288.0h0.8M102.4 273.2h0.8M95.9 300.3h0.8M87.2 300.7h0.8M115.1 295.2h0.8M110.7 286.1h0.8M118.0 291.8h0.8M92.4 299.1h0.8M94.6 298.8h0.8M92.2 287.4h0.8M111.2 283.3h0.8M92.0 292.4h0.8M93.1 298.1h0.8M99.8 281.3h0.8M93.0 284.2h0.8M112.0 281.5h0.8M114.7 294.6h0.8M96.1 297.9h0.8M100.6 304.8h0.8M105.0 272.9h0.8M107.2 280.3h0.8M92.6 294.4h0.8M110.4 284.4h0.8M97.0 301.4h0.8M111.2 284.9h0.8M112.9 289.1h0.8M103.4 301.5h0.8M125.4 290.5h0.8M99.0 299.9h0.8M97.5 280.7h0.8M94.7 296.1h0.8M112.9 303.5h0.8M109.2 281.0h0.8M86.9 300.9h0.8M125.8 293.0h0.8M103.9 282.3h0.8M108.4 301.2h0.8" stroke="#1a1a1a" stroke-width="0.8"/>
<path d="M50.1 344.1h0.8M66.3 340.5h0.8M46.6 329.7h0.8M99.9 340.5h0.8M105.9 328.4h0.8M49.0 326.4h0.8M65.9 346.9h0.8M128.0 365.3h0.8M36.9 339.7h0.8M130.8 350.6h0.8M68.4 340.1h0.8M41.6 337.0h0.8M47.0 341.2h0.8M105.1 333.5h0.8M92.4 336.4h0.8M89.9 333.0h0.8M137.2 332.3h0.8M49.4 335.3h0.8M61.9 341.7h0.8M83.5 343.1h0.8M132.8 356.4h0.8M78.7 340.3h0.8M121.0 326.4h0.8M82.2 340.4h0.8M53.9 341.4h0.8M119.1 336.0h0.8M127.8 375.4h0.8M81.4 330.8h0.8M48.5 332.1h0.8M41.5 331.9h0.8M52.3 343.9h0.8M98.1 338.9h0.8M41.3 326.6h0.8M62.7 333.8h0.8M89.5 328.8h0.8M116.9 313.9h0.8M51.1 337.8h0.8M99.0 340.2h0.8M106.6 328.3h0.8M120.3 340.2h0.8M124.1 338.4h0.8M93.2 340.3h0.8M47.6 333.5h0.8M107.4 318.3h0.8M80.3 335.3h0.8M72.9 341.3h0.8M101.3 339.3h0.8M110.2 389.5h0.8M121.9 331.9h0.8M83.1 338.5h0.8M128.3 349.0h0.8M79.3 332.6h0.8M88.8 329.9h0.8M129.7 379.3h0.8M54.3 343.8h0.8M131.3 389.3h0.8M41.1 340.9h0.8M47.0 344.7h0.8M138.9 375.0h0.8M117.1 328.3h0.8M101.5 337.4h0.8M41.3 342.9h0.8M69.7 348.3h0.8M126.6 339.8h0.8M73.9 339.2h0.8M68.8 317.2h0.8M89.3 322.7h0.8M66.5 334.4h0.8M121.4 345.4h0.8M52.2 341.2h0.8M84.1 342.7h0.8M108.2 339.8h0.8M116.7 339.1h0.8M39.6 340.9h0.8M133.6 340.6h0.8M83.7 333.0h0.8M44.2 343.8h0.8M130.7 382.1h0.8M37.6 323.4h0.8M70.1 348.0h0.8M132.4 359.8h0.8M128.3 374.5h0.8M129.9 361.6h0.8M137.6 386.5h0.8M36.9 337.1h0.8M55.5 333.3h0.8M59.0 345.3h0.8M76.1 343.6h0.8M106.5 339.9h0.8M68.0 339.2h0.8M137.8 381.2h0.8M95.7 339.6h0.8M130.1 376.9h0.8M129.9 381.1h0.8M127.0 356.6h0.8M50.7 327.4h0.8M97.3 339.9h0.8M73.5 344.9h0.8M59.9 344.4h0.8M49.0 340.7h0.8M95.1 335.6h0.8M99.5 328.5h0.8M91.2 334.1h0.8M85.7 331.6h0.8M43.1 329.2h0.8M108.5 322.9h0.8M71.7 343.1h0.8M47.2 341.8h0.8M69.8 347.1h0.8M37.9 334.4h0.8M73.2 334.6h0.8M125.8 351.8h0.8M50.1 335.0h0.8M80.2 335.5h0.8M129.2 356.3h0.8M68.9 341.2h0.8M129.6 364.5h0.8M128.0 347.5h0.8M106.9 334.0h0.8M73.0 331.1h0.8M105.7 334.8h0.8M46.4 318.5h0.8M50.2 338.1h0.8M43.5 339.3h0.8M108.0 330.8h0.8M60.6 324.8h0.8M133.0 374.1h0.8M51.3 345.9h0.8M59.6 344.5h0.8M126.9 351.1h0.8M127.6 365.1h0.8M85.2 343.2h0.8M78.6 341.7h0.8M103.4 336.6h0.8M85.6 340.2h0.8M59.8 340.1h0.8M73.8 346.5h0.8M125.2 331.2h0.8M121.8 330.0h0.8M99.2 338.0h0.8M54.5 334.6h0.8M101.1 338.0h0.8M97.7 339.7h0.8M73.9 340.6h0.8M70.7 345.2h0.8M56.4 345.7h0.8M66.2 347.1h0.8M106.2 318.8h0.8M116.4 332.3h0.8M137.0 378.3h0.8M125.2 334.1h0.8M61.3 341.5h0.8M113.9 338.8h0.8M69.3 333.9h0.8M128.0 375.7h0.8M128.2 376.6h0.8M96.7 317.6h0.8M62.5 341.1h0.8M111.8 334.7h0.8M57.3 331.0h0.8M65.1 334.7h0.8M115.3 338.8h0.8M80.4 344.8h0.8M119.3 341.6h0.8M107.8 320.2h0.8M96.6 336.1h0.8M86.3 343.4h0.8M67.4 347.8h0.8M126.8 349.3h0.8M39.2 332.8h0.8M72.0 336.8h0.8M61.0 340.5h0.8M62.1 328.1h0.8M98.8 340.2h0.8M131.3 375.3h0.8M90.0 316.2h0.8M37.7 331.7h0.8M83.9 336.8h0.8M124.3 336.3h0.8M41.0 343.5h0.8M43.3 389.4h0.8M97.4 336.9h0.8M104.0 329.6h0.8M101.3 337.6h0.8M129.3 382.2h0.8M109.1 328.7h0.8M72.6 345.0h0.8M54.5 389.5h0.8M127.3 367.2h0.8M113.9 319.4h0.8M45.1 339.6h0.8M136.4 357.9h0.8M138.1 360.3h0.8M111.8 330.3h0.8M112.2 323.1h0.8M63.7 344.1h0.8M91.8 339.3h0.8M130.9 388.7h0.8M80.1 341.7h0.8M59.8 331.1h0.8M38.2 338.1h0.8M100.4 339.7h0.8M56.7 331.1h0.8M41.4 341.1h0.8M104.4 389.5h0.8M50.0 338.1h0.8M137.9 366.5h0.8M39.4 338.1h0.8M137.7 362.8h0.8M103.5 334.6h0.8M106.1 329.1h0.8M53.9 344.4h0.8M117.7 332.9h0.8M135.3 350.2h0.8M61.0 335.3h0.8M75.4 339.0h0.8M100.5 331.2h0.8M69.4 346.6h0.8M56.2 346.3h0.8M40.9 344.3h0.8M114.4 342.1h0.8M61.6 345.0h0.8M66.9 343.0h0.8M104.9 335.9h0.8M129.6 389.3h0.8M48.9 343.8h0.8M72.2 348.1h0.8M98.2 340.9h0.8M44.8 342.3h0.8M104.0 323.5h0.8M88.2 338.6h0.8M100.0 336.0h0.8M128.6 379.5h0.8M98.7 335.7h0.8M55.2 336.3h0.8M95.5 334.9h0.8M76.4 345.8h0.8M94.6 322.5h0.8M107.2 334.7h0.8M38.2 343.2h0.8M35.1 334.2h0.8M68.6 343.0h0.8M109.4 339.7h0.8M69.6 323.0h0.8M101.8 321.1h0.8M131.0 357.8h0.8M105.2 340.1h0.8M120.5 340.1h0.8M38.6 332.1h0.8M120.3 389.5h0.8M128.6 386.8h0.8M59.0 343.8h0.8M86.6 341.0h0.8M92.3 328.4h0.8M55.8 345.1h0.8M73.2 340.4h0.8M100.1 327.4h0.8M64.1 334.3h0.8M126.7 359.6h0.8M46.2 329.0h0.8M126.7 348.2h0.8M112.2 320.0h0.8M124.4 335.5h0.8M51.0 345.4h0.8M41.0 317.9h0.8M79.7 338.4h0.8M37.6 320.1h0.8M55.2 343.2h0.8M98.0 331.0h0.8M108.0 322.0h0.8M76.2 337.5h0.8M119.4 314.2h0.8M131.6 365.2h0.8M107.3 335.9h0.8M46.9 344.6h0.8M121.2 327.9h0.8M41.0 317.5h0.8M129.5 359.3h0.8M54.5 338.5h0.8M39.5 341.7h0.8M110.5 335.7h0.8M123.2 342.5h0.8M114.8 330.6h0.8M131.6 370.5h0.8M90.6 338.8h0.8M74.5 339.5h0.8M112.1 337.1h0.8M102.8 324.6h0.8M84.6 339.3h0.8M113.6 314.6h0.8M88.6 389.5h0.8M122.0 328.8h0.8M106.8 328.3h0.8M103.2 339.6h0.8M71.0 348.4h0.8M128.7 358.9h0.8M95.8 322.9h0.8M102.4 339.7h0.8M77.8 345.5h0.8M116.0 329.2h0.8M67.8 336.0h0.8M37.9 325.5h0.8M125.6 347.3h0.8M116.3 337.8h0.8M84.5 339.2h0.8M96.8 335.9h0.8M89.3 343.5h0.8M114.8 338.3h0.8M100.6 333.4h0.8M118.7 340.5h0.8M130.2 346.2h0.8M89.3 331.8h0.8M54.6 340.6h0.8M64.5 344.9h0.8M61.1 340.8h0.8M106.8 335.7h0.8M123.7 343.6h0.8M131.8 369.4h0.8M68.7 343.6h0.8M96.5 336.8h0.8M48.2 344.8h0.8M99.8 332.6h0.8M131.6 347.9h0.8M110.5 326.2h0.8M41.6 341.7h0.8M120.3 389.4h0.8M121.4 341.7h0.8M71.4 345.9h0.8M36.3 339.0h0.8M128.1 364.0h0.8M112.9 331.2h0.8M122.8 342.7h0.8M85.8 326.7h0.8M122.6 335.7h0.8M100.0 335.2h0.8M128.0 357.4h0.8M56.8 344.5h0.8M110.2 329.8h0.8M41.2 342.6h0.8M51.0 333.0h0.8M36.4 329.0h0.8M123.9 342.4h0.8M60.0 338.8h0.8M85.2 333.5h0.8M45.1 336.5h0.8M125.0 316.5h0.8M72.8 338.3h0.8M99.4 332.8h0.8M79.6 345.1h0.8M59.5 342.0h0.8M83.7 389.4h0.8M124.8 347.4h0.8M79.0 341.8h0.8M114.8 336.5h0.8M139.0 374.2h0.8M104.2 389.4h0.8M77.8 327.9h0.8M127.6 367.6h0.8M65.9 346.3h0.8M119.2 335.7h0.8M65.4 337.9h0.8M60.1 338.4h0.8M81.5 343.7h0.8M60.3 344.2h0.8M119.1 337.5h0.8M96.9 335.1h0.8M75.0 344.0h0.8M130.1 354.4h0.8M94.6 340.2h0.8M71.4 332.7h0.8M62.8 345.9h0.8M77.1 345.8h0.8M81.4 345.8h0.8M105.2 323.3h0.8M79.0 331.2h0.8M89.2 342.5h0.8M128.4 375.7h0.8M113.3 338.1h0.8M43.7 341.9h0.8M46.9 344.4h0.8M114.8 332.1h0.8M68.7 344.7h0.8M127.3 349.7h0.8M70.7 347.1h0.8M128.4 364.1h0.8M66.0 338.4h0.8M112.8 341.5h0.8M81.8 337.3h0.8M104.5 326.9h0.8M64.6 344.1h0.8M40.3 323.5h0.8M60.2 330.7h0.8M127.9 364.9h0.8M51.6 345.4h0.8M47.3 334.1h0.8M74.1 338.2h0.8M77.8 340.8h0.8M126.9 382.5h0.8M131.2 386.3h0.8M130.9 345.4h0.8M64.6 346.3h0.8M110.8 333.3h0.8M127.5 382.8h0.8M124.3 323.2h0.8M90.1 339.5h0.8M103.1 316.8h0.8M127.7 369.1h0.8M51.3 343.4h0.8M44.0 341.7h0.8M98.1 329.4h0.8M99.0 322.5h0.8M69.9 325.3h0.8M44.8 341.1h0.8M104.2 337.7h0.8M103.3 326.9h0.8M51.6 338.3h0.8M112.9 339.8h0.8M127.0 352.8h0.8M119.0 344.1h0.8M85.2 340.7h0.8M120.6 338.3h0.8M96.6 326.1h0.8M127.8 366.5h0.8M60.6 333.0h0.8M126.7 356.6h0.8M110.7 338.7h0.8M93.3 341.9h0.8M87.3 331.1h0.8M133.7 370.0h0.8M137.9 353.1h0.8M55.2 344.8h0.8M79.3 344.1h0.8M128.1 346.5h0.8M38.4 321.2h0.8M125.2 348.1h0.8M117.4 341.4h0.8M48.1 334.2h0.8M106.4 334.0h0.8M90.4 331.1h0.8M110.4 331.4h0.8M43.2 344.6h0.8M90.8 332.8h0.8M104.4 326.2h0.8M108.6 337.6h0.8M98.8 332.7h0.8M40.1 331.8h0.8M72.1 348.1h0.8M94.6 326.6h0.8M119.6 338.1h0.8M82.8 344.8h0.8M71.1 347.1h0.8M39.6 344.2h0.8M82.6 333.6h0.8M71.0 346.7h0.8M120.2 343.5h0.8M47.9 343.2h0.8M53.5 334.2h0.8M137.5 381.5h0.8M36.9 340.5h0.8M128.0 386.9h0.8M75.1 347.7h0.8M131.2 346.2h0.8M84.7 340.8h0.8M39.7 341.5h0.8M42.2 325.8h0.8M36.0 338.0h0.8M90.3 340.6h0.8M98.0 336.1h0.8M89.8 324.1h0.8M128.3 385.5h0.8M113.7 324.7h0.8M126.7 377.3h0.8M113.8 321.6h0.8M129.3 377.5h0.8M81.6 343.8h0.8M57.1 331.6h0.8M106.9 334.6h0.8M129.5 388.5h0.8M122.2 331.3h0.8M70.9 331.8h0.8M59.0 342.9h0.8M39.8 340.1h0.8M112.5 335.2h0.8M127.7 338.0h0.8M135.7 381.6h0.8M59.3 341.9h0.8M110.9 337.6h0.8M61.0 343.6h0.8M44.2 338.6h0.8M115.7 326.8h0.8M70.8 344.4h0.8M99.1 339.2h0.8M60.3 346.6h0.8M83.1 342.3h0.8M81.6 345.1h0.8M131.5 358.9h0.8M42.5 339.7h0.8M84.5 342.1h0.8M73.6 347.8h0.8M123.9 330.3h0.8M102.4 334.7h0.8M47.3 342.1h0.8M35.1 336.3h0.8M56.3 345.5h0.8M86.2 335.9h0.8M127.8 359.2h0.8M66.8 342.4h0.8M55.3 340.3h0.8M80.0 342.4h0.8M84.0 341.3h0.8M128.0 361.4h0.8M103.5 330.1h0.8M68.6 341.7h0.8M54.2 343.5h0.8M65.8 343.3h0.8M50.8 340.5h0.8M104.8 329.2h0.8M61.8 340.1h0.8M127.9 345.0h0.8M129.9 357.5h0.8M129.9 356.0h0.8M71.8 346.8h0.8M69.2 327.8h0.8M126.8 374.5h0.8M53.3 339.2h0.8M50.5 340.6h0.8M59.5 345.4h0.8M65.0 342.8h0.8M127.8 366.5h0.8M80.5 320.8h0.8M69.8 327.4h0.8M52.1 340.2h0.8M104.8 337.2h0.8M94.0 341.0h0.8M77.3 326.9h0.8M127.1 363.1h0.8M125.1 333.5h0.8M104.8 337.5h0.8M71.2 336.5h0.8M101.4 389.4h0.8M98.9 325.5h0.8M66.4 345.5h0.8M57.0 331.3h0.8M45.9 340.9h0.8M69.4 339.4h0.8M83.7 343.8h0.8M101.9 338.7h0.8M67.2 341.1h0.8M105.6 323.8h0.8M52.9 333.4h0.8M89.4 327.8h0.8M90.6 338.1h0.8M64.4 346.2h0.8M74.4 345.0h0.8M137.8 366.2h0.8M72.9 346.5h0.8M136.7 388.4h0.8M91.6 327.1h0.8M126.7 357.4h0.8M87.8 328.3h0.8M86.8 338.4h0.8M128.4 369.4h0.8M104.1 324.3h0.8M92.6 322.0h0.8M131.5 371.6h0.8M128.5 340.9h0.8M110.8 338.7h0.8M117.8 339.5h0.8M41.0 338.0h0.8M113.4 337.1h0.8M76.1 332.4h0.8M35.1 339.0h0.8M106.0 326.6h0.8M64.4 340.2h0.8M123.9 343.6h0.8M101.7 339.5h0.8M119.8 343.3h0.8M105.0 339.1h0.8M128.0 356.1h0.8M59.9 342.4h0.8M129.5 344.6h0.8M76.2 347.3h0.8M109.1 336.8h0.8M46.9 345.1h0.8M127.7 385.3h0.8M119.2 329.0h0.8M97.5 316.8h0.8M85.6 336.1h0.8M115.7 335.3h0.8M97.0 336.9h0.8M83.2 345.2h0.8M50.8 321.6h0.8M112.9 334.1h0.8M74.7 319.7h0.8M130.8 369.5h0.8M61.8 329.5h0.8M49.1 343.4h0.8M70.2 333.2h0.8M126.8 334.1h0.8M74.5 340.6h0.8M124.4 342.0h0.8M93.6 341.0h0.8M78.5 341.9h0.8M51.0 332.5h0.8M129.0 365.0h0.8M91.1 342.2h0.8M119.3 344.4h0.8M136.1 368.6h0.8M121.8 339.0h0.8" stroke="#1a1a1a" stroke-width="0.8"/>
<path d="M80.7 271.1h0.8M126.8 260.1h0.8M110.6 301.2h0.8M43.2 321.0h0.8M40.3 310.7h0.8M44.8 262.7h0.8M94.9 365.8h0.8M52.5 281.3h0.8M123.5 382.7h0.8M116.4 305.5h0.8M172.7 256.5h0.8M55.3 266.5h0.8M78.5 364.3h0.8M60.5 331.4h0.8M125.1 302.1h0.8M43.4 278.8h0.8M130.9 309.9h0.8M79.3 332.0h0.8M98.9 292.0h0.8M69.4 330.4h0.8M109.1 372.5h0.8M173.2 266.5h0.8M94.0 356.0h0.8M56.4 318.5h0.8M40.5 343.6h0.8M133.0 333.2h0.8M116.8 313.9h0.8M101.8 343.0h0.8M43.6 348.2h0.8M126.2 389.0h0.8M89.4 343.6h0.8M38.2 314.6h0.8M58.7 266.4h0.8M43.3 357.6h0.8M53.2 284.7h0.8M90.1 372.0h0.8M46.4 312.9h0.8M112.5 373.7h0.8M74.3 308.1h0.8M85.6 373.8h0.8M170.0 271.1h0.8M59.8 282.5h0.8M67.9 317.9h0.8M118.1 286.8h0.8M35.6 308.7h0.8M87.1 329.3h0.8M107.7 336.5h0.8M130.3 257.6h0.8M90.3 305.9h0.8M49.6 338.8h0.8M43.8 259.4h0.8M64.4 272.7h0.8M82.9 257.4h0.8M49.3 300.9h0.8M38.6 372.4h0.8M121.6 270.8h0.8M70.6 298.6h0.8M100.7 317.7h0.8M47.1 264.3h0.8M83.3 287.1h0.8M151.9 272.6h0.8M38.3 383.1h0.8M109.5 270.5h0.8M111.6 253.8h0.8M109.5 387.0h0.8M71.8 301.3h0.8M58.6 358.1h0.8M110.1 359.1h0.8M81.5 281.2h0.8M67.0 322.5h0.8M85.1 254.1h0.8M38.9 289.1h0.8M71.5 347.0h0.8M169.9 312.6h0.8M169.7 301.0h0.8M66.1 281.8h0.8M62.7 278.6h0.8M123.0 376.0h0.8M153.5 317.1h0.8M127.1 362.0h0.8M47.0 342.5h0.8M140.8 316.9h0.8M60.2 360.5h0.8M81.9 362.1h0.8M172.0 305.4h0.8M91.6 382.6h0.8M137.2 273.8h0.8M52.9 271.2h0.8M55.6 365.7h0.8M84.4 326.8h0.8M53.5 252.0h0.8M109.2 380.7h0.8M96.2 372.0h0.8M70.5 291.0h0.8M68.9 332.1h0.8M71.6 308.7h0.8M53.5 377.4h0.8M84.9 314.1h0.8M117.3 376.6h0.8M94.3 378.5h0.8M105.7 324.5h0.8M108.8 252.6h0.8M97.1 275.6h0.8M35.6 361.9h0.8M59.3 316.3h0.8M137.3 327.9h0.8M81.0 322.6h0.8M113.3 359.8h0.8M50.0 328.4h0.8M70.0 288.8h0.8" stroke="#333" stroke-width="0.8" opacity="1.00"/>
<path d="M36 281C38 279 42 277.3 49.2 276.7C53 276.4 56 276.4 58.8 276.7C62 277 64.5 277.5 66.5 278.7C69.5 280 72 281.5 74.2 283.5C77 286 79.5 288.5 81.9 290.2C84 291.6 86 292.5 88.5 293.2L88.5 295.6C85.5 296.4 82 297.5 78 298.8C75 300.5 72 302.3 68.5 303.7C65 305 62 306 58.8 306.5C54 307.3 49 308.3 45.4 308.5C42 308.6 39 307.8 36 306.5Z" fill="#000" stroke="#000" stroke-width="1.2"/>
<path d="M36.8 283.5C39 281.5 42 280 46 279.6C51 279.2 56 279.2 60 279.6C64 280.2 67.5 281.5 70 283.5C72.5 286 74.5 289 76.3 292.2C74.5 295 72 297.5 69 299.5C65 301.8 60 303.6 55 304.6C50 305.4 45 305.6 41 305.2L36.8 304Z" fill="url(#gUL)"/>
<path d="M86 294.4H96" stroke="#000" stroke-width="2.6"/>
<ellipse cx="52.1" cy="290.4" rx="6.8" ry="5.5" fill="#8c8c8c" stroke="#eee" stroke-width="1.1"/>
<path d="M90 294.3C94 290 98.5 284.5 104.2 283.4C109.8 283.8 113.6 288.5 113.9 293C113.3 297.5 109 301.2 104.2 301.4C98.5 300.8 94 298 90 294.3Z" fill="#000"/>
<circle cx="104.6" cy="292.7" r="3.6" fill="#aaa"/>
<ellipse cx="107.8" cy="292.5" rx="18.9" ry="16.8" fill="none" stroke="#111" stroke-width="1.4" stroke-dasharray="4 2.6"/>
<clipPath id="cpLow"><path d="M35.5 343C40 345.3 46 345.8 53.5 346.1C60 346.4 67 348.4 74 349.3L77.4 347.2C80 346.2 84 345.2 86 344.8C90 343.2 95 341.8 99 340.6C101 340.2 103 340 104 340.1C110 340.8 114 341.8 117 342.8C121 344 124 346 125.6 348.6C127.2 352 127.6 358 127.5 362.4C127.3 368 127 374 126.9 379.1C127.2 383 127.5 386 128 388L128 389.4L35.5 389.4Z"/></clipPath>
<g clip-path="url(#cpLow)">
<rect x="34" y="338" width="96" height="53" fill="#646464"/>
<g filter="url(#bl3)">
<path d="M36 346V390H44C42 380 40 372 38.5 362C38 355 37 350 36 346Z" fill="#1a1a1a"/>
<ellipse cx="48.5" cy="364" rx="14" ry="13.5" fill="#111"/>
<ellipse cx="64" cy="371" rx="8" ry="10" fill="#b0b0b0"/>
<ellipse cx="45" cy="385" rx="10" ry="5" fill="#555"/>
<path d="M37 348C50 350 65 351 77 352" stroke="#b8b8b8" stroke-width="3" fill="none"/>
<ellipse cx="79" cy="380" rx="4" ry="9" fill="#bbb"/>
</g>
<path d="M78 392V350C80 348.5 84 347.5 86 347C92 345.5 98 343.5 103 343.3C110 343.6 116 345.2 120 348C123 350.5 124.3 354 124.5 362C124.5 372 124.3 382 124.3 392Z" fill="url(#sc3)" stroke="#d8d8d8" stroke-width="0.9"/>
<path d="M93.8 392C91 385 88.5 380 87.9 375.6C87 370 86.6 366 86.6 362.4C86.6 360 86.6 358.8 86.8 357.8C88 355.5 89 354.5 90.5 353.8C94 351 98 349.2 102.4 349.2C107 349.4 110.5 349.8 113 350.5C116 353 118.5 355.5 118.9 358.5C119.3 363 119 368 118.3 373C117.5 377 116.5 380 115.6 382.2C115.5 385 115.5 388 115.6 392Z" fill="url(#sc3)" stroke="#eee" stroke-width="1.1"/>
<path d="M103.7 381.6C100.5 379.5 97.5 377 95.8 374.3C94.3 370 93.6 366 93.8 362.4C94 358.5 94.6 356 95.8 354.5C98 352.6 100.5 351.9 103.1 351.9C106.5 351.9 109.3 353 111 354.5C112.6 357 113.2 360.5 113 363.7C112.6 368 111.8 372 110.3 375.6C108.5 378 106.3 380 103.7 381.6Z" fill="url(#sc3)" stroke="#eee" stroke-width="1.1"/>
<path d="M104.4 357.1C106 357.8 107.3 359 107.7 360.4C107.6 362.5 107 364.6 106.4 366.4C105.5 367.8 104.4 368.7 103.1 369C101.8 368 101.2 366.3 101.1 364.4C100.8 362.6 100.4 361 100.4 359.8C101 358.2 102.6 357.2 104.4 357.1Z" fill="#a8a8a8" stroke="#f2f2f2" stroke-width="1.1"/>
<path d="M40.6 361.6C42 359 43.5 357.2 45.1 355.8C48.5 355.2 52 355 55 355.2C56.5 356 57.3 357.2 57.6 358.5C56.5 363 54.2 368 51.6 371.8C49.5 371.5 47 369.5 45 367C43 365 41.5 363.2 40.6 361.6Z" fill="#a4a4a4" stroke="#f0f0f0" stroke-width="1.2" stroke-linejoin="round"/>
<path d="M69 376.2C71 376.4 72.8 378.5 74 381C74.5 383.5 72.5 385.6 69.5 385.8C66.5 385.9 64.5 384.4 64.5 382C64.8 379.5 66.8 376.6 69 376.2Z" fill="#000"/>
</g>
<path d="M35.5 343C40 345.3 46 345.8 53.5 346.1C60 346.4 67 348.4 74 349.3L77.4 347.2C80 346.2 84 345.2 86 344.8C90 343.2 95 341.8 99 340.6C101 340.2 103 340 104 340.1C110 340.8 114 341.8 117 342.8C121 344 124 346 125.6 348.6C127.2 352 127.6 358 127.5 362.4C127.3 368 127 374 126.9 379.1C127.2 383 127.5 386 128 388L128 389.4" fill="none" stroke="#000" stroke-width="2.2"/>
<rect x="35.6" y="272" width="98" height="40.8" fill="none" stroke="#111" stroke-width="1.1"/>
<path d="M77.5 389.5V332.1H139.4V389.5" fill="none" stroke="#111" stroke-width="1.1"/>
<text x="61.5" y="267.5" font-size="10.60" text-anchor="start" fill="#000" >B cells 10%</text>
<text x="135.4" y="286.0" font-size="9.70" text-anchor="start" fill="#6a6a6a" >CD5<tspan font-size="5.5" dy="-3.8">+</tspan></text>
<text x="135.4" y="297.2" font-size="9.70" text-anchor="start" fill="#6a6a6a" >B cells</text>
<text x="135.4" y="308.3" font-size="9.70" text-anchor="start" fill="#6a6a6a" >0.8%</text>
<text x="141.4" y="360.0" font-size="10.80" text-anchor="start" fill="#000" >T cells</text>
<text x="141.4" y="372.2" font-size="10.80" text-anchor="start" fill="#000" >65%</text>
<path d="M34.50 390.00v3.00M45.07 390.00v1.60M51.25 390.00v1.60M55.63 390.00v1.60M59.03 390.00v1.60M61.81 390.00v1.60M64.16 390.00v1.60M66.20 390.00v1.60M67.99 390.00v1.60M69.60 390.00v3.00M80.17 390.00v1.60M86.35 390.00v1.60M90.73 390.00v1.60M94.13 390.00v1.60M96.91 390.00v1.60M99.26 390.00v1.60M101.30 390.00v1.60M103.09 390.00v1.60M104.70 390.00v3.00M115.27 390.00v1.60M121.45 390.00v1.60M125.83 390.00v1.60M129.23 390.00v1.60M132.01 390.00v1.60M134.36 390.00v1.60M136.40 390.00v1.60M138.19 390.00v1.60M139.80 390.00v3.00M150.37 390.00v1.60M156.55 390.00v1.60M160.93 390.00v1.60M164.33 390.00v1.60M167.11 390.00v1.60M169.46 390.00v1.60M171.50 390.00v1.60M173.29 390.00v1.60M174.90 390.00v3.00" stroke="#333" stroke-width="0.60" fill="none"/>
<path d="M34.20 389.80h-3.00M34.20 379.25h-1.60M34.20 373.08h-1.60M34.20 368.70h-1.60M34.20 365.30h-1.60M34.20 362.53h-1.60M34.20 360.18h-1.60M34.20 358.15h-1.60M34.20 356.35h-1.60M34.20 354.75h-3.00M34.20 344.20h-1.60M34.20 338.03h-1.60M34.20 333.65h-1.60M34.20 330.25h-1.60M34.20 327.48h-1.60M34.20 325.13h-1.60M34.20 323.10h-1.60M34.20 321.30h-1.60M34.20 319.70h-3.00M34.20 309.15h-1.60M34.20 302.98h-1.60M34.20 298.60h-1.60M34.20 295.20h-1.60M34.20 292.43h-1.60M34.20 290.08h-1.60M34.20 288.05h-1.60M34.20 286.25h-1.60M34.20 284.65h-3.00M34.20 274.10h-1.60M34.20 267.93h-1.60M34.20 263.55h-1.60M34.20 260.15h-1.60M34.20 257.38h-1.60M34.20 255.03h-1.60M34.20 253.00h-1.60M34.20 251.20h-1.60M34.20 249.60h-3.00" stroke="#333" stroke-width="0.60" fill="none"/>
<text x="34.5" y="404.6" font-size="6.90" text-anchor="middle" font-family="Liberation Sans, sans-serif" font-weight="bold">10<tspan dy="-2.8" font-size="5.18">0</tspan></text>
<text x="30.0" y="392.6" font-size="6.90" text-anchor="end" font-family="Liberation Sans, sans-serif" font-weight="bold">10<tspan dy="-2.8" font-size="5.18">0</tspan></text>
<text x="69.6" y="404.6" font-size="6.90" text-anchor="middle" font-family="Liberation Sans, sans-serif" font-weight="bold">10<tspan dy="-2.8" font-size="5.18">1</tspan></text>
<text x="30.0" y="357.6" font-size="6.90" text-anchor="end" font-family="Liberation Sans, sans-serif" font-weight="bold">10<tspan dy="-2.8" font-size="5.18">1</tspan></text>
<text x="104.7" y="404.6" font-size="6.90" text-anchor="middle" font-family="Liberation Sans, sans-serif" font-weight="bold">10<tspan dy="-2.8" font-size="5.18">2</tspan></text>
<text x="30.0" y="322.5" font-size="6.90" text-anchor="end" font-family="Liberation Sans, sans-serif" font-weight="bold">10<tspan dy="-2.8" font-size="5.18">2</tspan></text>
<text x="139.8" y="404.6" font-size="6.90" text-anchor="middle" font-family="Liberation Sans, sans-serif" font-weight="bold">10<tspan dy="-2.8" font-size="5.18">3</tspan></text>
<text x="30.0" y="287.5" font-size="6.90" text-anchor="end" font-family="Liberation Sans, sans-serif" font-weight="bold">10<tspan dy="-2.8" font-size="5.18">3</tspan></text>
<text x="174.9" y="404.6" font-size="6.90" text-anchor="middle" font-family="Liberation Sans, sans-serif" font-weight="bold">10<tspan dy="-2.8" font-size="5.18">4</tspan></text>
<text x="30.0" y="252.4" font-size="6.90" text-anchor="end" font-family="Liberation Sans, sans-serif" font-weight="bold">10<tspan dy="-2.8" font-size="5.18">4</tspan></text>
<polygon points="222.8,273.0 230.0,271.0 236.0,270.0 242.0,270.5 250.0,272.5 258.0,275.5 266.0,278.5 272.0,280.0 280.0,279.0 288.0,278.5 296.0,279.5 300.5,282.5 304.0,286.5 305.5,291.0 305.5,296.0 303.5,302.0 299.0,307.0 293.0,310.0 286.0,311.5 276.0,312.8 266.0,314.5 256.0,316.5 246.0,317.5 236.0,317.8 228.0,317.0 222.8,316.5" fill="#000"/>
<path d="M244.6 271.1h0.9M299.8 274.8h0.9M283.1 316.2h0.9M254.2 265.6h0.9M245.3 265.5h0.9M280.8 315.7h0.9M261.8 318.3h0.9M273.9 320.6h0.9M305.3 291.1h0.9M263.1 317.9h0.9M283.6 277.9h0.9M228.0 320.6h0.9M285.4 276.9h0.9M277.7 277.8h0.9M236.8 266.0h0.9M290.8 274.9h0.9M280.8 312.2h0.9M265.1 315.7h0.9M288.1 278.2h0.9M254.9 320.4h0.9M267.9 267.2h0.9M235.1 266.2h0.9M307.4 294.2h0.9M248.3 318.1h0.9M276.6 318.4h0.9M286.0 276.5h0.9M252.5 268.2h0.9M257.2 274.7h0.9M261.5 274.2h0.9M230.4 270.7h0.9M225.5 270.6h0.9M233.8 266.2h0.9M257.9 261.8h0.9M267.6 324.6h0.9M274.6 323.7h0.9M257.8 316.3h0.9M273.5 278.5h0.9M225.9 269.7h0.9M245.1 264.7h0.9M230.0 269.8h0.9M271.9 278.3h0.9M307.5 279.3h0.9M277.5 316.2h0.9M290.9 276.0h0.9M283.0 328.2h0.9M301.5 305.4h0.9M244.5 327.5h0.9M248.8 271.5h0.9M282.7 276.9h0.9M263.3 320.0h0.9M224.0 268.2h0.9M300.9 310.1h0.9M291.8 268.3h0.9M287.0 311.5h0.9M292.6 315.7h0.9M239.5 261.2h0.9M287.4 311.5h0.9M264.9 318.6h0.9M272.2 277.9h0.9M301.8 283.0h0.9M267.0 315.9h0.9M268.4 315.7h0.9M303.6 301.8h0.9M229.7 318.0h0.9M248.7 271.1h0.9M238.4 257.6h0.9M224.1 272.3h0.9M279.9 269.5h0.9M286.5 276.3h0.9M268.5 328.9h0.9M260.7 268.6h0.9M230.6 322.6h0.9M277.8 274.1h0.9M305.2 295.9h0.9M255.8 274.8h0.9M305.2 322.2h0.9M242.8 256.4h0.9M306.5 303.5h0.9M274.1 316.5h0.9M309.3 287.5h0.9M309.6 291.3h0.9M298.8 277.9h0.9M276.2 317.3h0.9M246.6 318.1h0.9M248.0 320.3h0.9M253.3 319.0h0.9M258.1 321.8h0.9M234.6 270.1h0.9M267.4 314.8h0.9M272.3 273.0h0.9M270.8 318.0h0.9M299.7 278.0h0.9M306.3 296.2h0.9M309.2 278.6h0.9M296.0 279.6h0.9M236.5 260.8h0.9M259.2 273.6h0.9M257.0 316.7h0.9M303.9 300.2h0.9M229.0 317.8h0.9M245.6 265.4h0.9M279.9 322.0h0.9M226.2 267.4h0.9M241.8 318.9h0.9M287.8 311.2h0.9M242.7 264.2h0.9M305.6 300.2h0.9M287.7 313.0h0.9M288.7 314.6h0.9M280.2 272.1h0.9M254.6 273.8h0.9M300.9 305.0h0.9M259.3 273.5h0.9M273.3 275.5h0.9M277.6 274.7h0.9M243.3 267.1h0.9M299.3 306.7h0.9M309.3 277.2h0.9M235.5 268.9h0.9M270.4 279.4h0.9M283.8 319.9h0.9M226.4 265.7h0.9M272.0 279.8h0.9M305.6 294.4h0.9M257.3 274.8h0.9M299.1 278.8h0.9M265.4 315.8h0.9M222.9 319.9h0.9M245.4 317.6h0.9M309.0 290.2h0.9M298.7 277.9h0.9M224.2 260.0h0.9M226.4 267.9h0.9M254.3 268.8h0.9M223.1 265.4h0.9M230.5 253.9h0.9M244.8 317.8h0.9M237.4 267.2h0.9M233.3 266.5h0.9M242.9 319.3h0.9M246.6 263.4h0.9M288.3 272.4h0.9M250.8 321.6h0.9M311.4 282.3h0.9M262.1 325.2h0.9M284.5 278.0h0.9M266.3 274.2h0.9M232.9 320.7h0.9M290.9 277.9h0.9M291.6 276.4h0.9M287.9 311.5h0.9M264.5 277.3h0.9M293.2 313.5h0.9M245.6 270.0h0.9M223.8 317.4h0.9M303.6 302.3h0.9M272.8 315.8h0.9M225.7 320.6h0.9M269.8 275.4h0.9M271.7 276.5h0.9M287.3 277.1h0.9M283.8 315.8h0.9M238.3 320.7h0.9M298.7 309.7h0.9M251.2 267.0h0.9M238.9 263.1h0.9M294.9 272.5h0.9M245.0 322.8h0.9M307.4 291.1h0.9M287.1 317.0h0.9M281.7 278.6h0.9M267.9 272.7h0.9M293.8 311.7h0.9M306.8 290.0h0.9M303.9 303.7h0.9M270.0 313.9h0.9M299.9 281.9h0.9M267.8 327.1h0.9M258.5 272.5h0.9M242.3 320.1h0.9M225.1 272.1h0.9M299.3 273.7h0.9M223.4 324.5h0.9M250.5 317.9h0.9M226.4 318.2h0.9M242.6 265.1h0.9M260.0 316.4h0.9M267.4 278.0h0.9M270.9 314.9h0.9M309.1 304.5h0.9M280.9 313.6h0.9M306.2 307.5h0.9M234.0 324.4h0.9M256.5 266.5h0.9M232.2 264.7h0.9M283.8 313.4h0.9M256.1 268.2h0.9M291.5 277.4h0.9M248.6 317.6h0.9M277.1 312.7h0.9M226.6 271.8h0.9M302.0 284.1h0.9M227.0 269.1h0.9M260.6 317.9h0.9M286.2 278.6h0.9M281.0 277.5h0.9M263.6 276.7h0.9M294.7 319.8h0.9M225.9 320.8h0.9M285.1 277.2h0.9M272.8 271.2h0.9M278.5 267.4h0.9M230.0 270.8h0.9M270.5 317.8h0.9M262.7 272.7h0.9M257.6 267.1h0.9M234.3 320.6h0.9M304.7 298.7h0.9M285.5 278.3h0.9M232.8 269.7h0.9M240.5 268.2h0.9M256.4 274.0h0.9M299.7 309.2h0.9M287.7 315.8h0.9M266.4 319.3h0.9M275.8 319.6h0.9M296.9 308.1h0.9M242.0 323.8h0.9M244.6 251.4h0.9M291.5 276.1h0.9M302.1 283.6h0.9M292.2 276.8h0.9M256.5 326.7h0.9M232.7 322.8h0.9M276.1 317.1h0.9M295.2 309.6h0.9M272.2 315.7h0.9M289.4 276.7h0.9M290.0 316.9h0.9M231.0 268.2h0.9M236.0 317.9h0.9M300.5 305.6h0.9M283.3 313.2h0.9M240.3 266.3h0.9M252.9 327.9h0.9M255.4 257.2h0.9M268.1 263.5h0.9M272.9 314.0h0.9M284.0 312.8h0.9M283.7 313.9h0.9M227.3 321.5h0.9M245.8 267.9h0.9M265.0 322.2h0.9M289.9 313.5h0.9M257.6 318.0h0.9M307.6 288.9h0.9M223.1 322.7h0.9M297.3 311.7h0.9M302.3 306.3h0.9M306.9 283.6h0.9M236.4 318.2h0.9M244.2 320.9h0.9M294.9 313.1h0.9M262.7 275.8h0.9M255.7 269.9h0.9M245.2 267.6h0.9M303.4 302.0h0.9M290.2 311.6h0.9M299.2 280.5h0.9M298.0 308.7h0.9M256.0 264.3h0.9M279.2 277.5h0.9M244.9 261.5h0.9M303.4 286.2h0.9M306.6 301.8h0.9M270.7 271.8h0.9M245.0 319.7h0.9M270.4 279.1h0.9M281.0 272.1h0.9M284.8 276.4h0.9M279.7 273.3h0.9M280.0 278.8h0.9M289.3 313.8h0.9M302.8 305.5h0.9M270.3 313.9h0.9M292.4 311.4h0.9M274.0 313.2h0.9M266.9 324.6h0.9M295.6 277.7h0.9M271.6 276.1h0.9M242.2 257.9h0.9M278.9 319.3h0.9M282.9 313.5h0.9M292.8 275.4h0.9M238.4 318.8h0.9M299.8 281.9h0.9M289.1 278.0h0.9M286.3 311.3h0.9M286.8 277.9h0.9M283.3 277.6h0.9M246.6 319.8h0.9M270.7 274.2h0.9M226.9 317.0h0.9M245.4 318.3h0.9M234.0 261.5h0.9M293.4 311.7h0.9M282.3 313.2h0.9M228.1 271.1h0.9M300.0 282.4h0.9M288.0 276.6h0.9M243.3 320.3h0.9M261.2 273.3h0.9M256.2 267.2h0.9M242.3 321.2h0.9M233.0 270.1h0.9M266.4 277.0h0.9M292.1 278.1h0.9M272.2 316.5h0.9M228.0 321.8h0.9M255.7 321.2h0.9M261.6 276.6h0.9M260.6 316.5h0.9M238.2 270.0h0.9M247.6 269.6h0.9M278.8 274.5h0.9M254.7 320.9h0.9M252.5 319.1h0.9M241.2 322.7h0.9M294.8 320.3h0.9M296.0 263.9h0.9M277.2 278.5h0.9M251.6 318.6h0.9M227.5 325.6h0.9M304.3 300.6h0.9M259.8 319.2h0.9M244.1 319.7h0.9M255.9 319.1h0.9M311.6 292.9h0.9M279.7 315.3h0.9M287.4 273.3h0.9M314.3 306.2h0.9M256.3 266.5h0.9M253.9 269.5h0.9M227.1 270.2h0.9M287.7 270.6h0.9M234.3 319.7h0.9M232.8 318.0h0.9M253.6 272.5h0.9M237.8 263.6h0.9M223.5 323.2h0.9M245.0 269.0h0.9M301.1 278.4h0.9M294.3 279.1h0.9M239.4 270.3h0.9M232.6 267.6h0.9M248.6 318.6h0.9M274.0 314.0h0.9M257.5 274.4h0.9M267.2 278.9h0.9M276.9 273.3h0.9M237.4 266.6h0.9M237.3 321.7h0.9M283.3 278.1h0.9M259.5 270.3h0.9M242.2 319.0h0.9M230.2 318.3h0.9M223.9 326.6h0.9M295.7 275.7h0.9M247.3 319.5h0.9M291.5 278.4h0.9M265.3 322.1h0.9M288.6 314.4h0.9M236.7 319.7h0.9M248.3 319.6h0.9M254.2 271.6h0.9M222.9 344.5h0.9M305.2 294.5h0.9M301.2 307.4h0.9M305.0 297.6h0.9M307.3 306.3h0.9M294.1 310.1h0.9M272.4 279.1h0.9M272.3 315.1h0.9M294.3 272.2h0.9M308.6 297.1h0.9M305.6 291.9h0.9M231.7 270.2h0.9M282.0 314.1h0.9M234.6 319.3h0.9M264.1 318.1h0.9M244.0 269.9h0.9M224.2 321.2h0.9M298.9 309.4h0.9M302.3 270.7h0.9M236.3 318.9h0.9M223.8 320.7h0.9M268.3 315.0h0.9M242.8 319.1h0.9M301.3 307.0h0.9M225.1 269.7h0.9M274.1 318.2h0.9M271.8 279.0h0.9M261.6 275.5h0.9M285.9 275.0h0.9M268.4 277.8h0.9M264.6 275.3h0.9M305.9 288.9h0.9M246.2 325.1h0.9M289.9 278.6h0.9M223.4 317.4h0.9M269.0 272.6h0.9M255.0 264.2h0.9M315.6 299.0h0.9M224.6 270.6h0.9M233.3 325.8h0.9M237.3 269.7h0.9M266.5 318.2h0.9M233.8 269.9h0.9M245.3 269.6h0.9M276.1 275.1h0.9M295.1 310.9h0.9M279.2 277.0h0.9M243.8 263.3h0.9M306.6 285.6h0.9M267.3 278.5h0.9M235.4 266.8h0.9M238.3 318.2h0.9M240.7 321.7h0.9M297.7 308.6h0.9M303.2 305.1h0.9M304.5 299.9h0.9M280.9 275.9h0.9M247.9 258.1h0.9M310.0 306.6h0.9M272.8 313.6h0.9M305.2 287.8h0.9M303.1 283.8h0.9M294.5 274.5h0.9M227.4 271.3h0.9M299.8 307.7h0.9M297.8 308.5h0.9M238.0 268.6h0.9M289.4 277.6h0.9M225.2 266.8h0.9M261.2 271.6h0.9M266.5 276.4h0.9M284.5 276.0h0.9M248.7 323.9h0.9M304.0 287.6h0.9M250.9 323.3h0.9M257.5 318.1h0.9M277.2 279.2h0.9M231.6 270.3h0.9M305.8 291.7h0.9M249.0 329.7h0.9M306.1 284.8h0.9M245.6 318.4h0.9M272.5 279.4h0.9M277.6 266.8h0.9M245.6 317.9h0.9M278.1 263.4h0.9M258.0 317.0h0.9M274.1 316.3h0.9M274.9 274.3h0.9M242.7 322.6h0.9M260.4 316.3h0.9M286.6 313.4h0.9M289.4 312.0h0.9M298.7 281.2h0.9M252.4 318.7h0.9M279.0 277.2h0.9M295.9 277.7h0.9M273.4 313.5h0.9M279.3 277.3h0.9M255.8 319.0h0.9M275.4 315.5h0.9M285.6 314.5h0.9M241.1 264.4h0.9M294.9 310.6h0.9M292.0 273.6h0.9M297.0 279.0h0.9M253.8 319.0h0.9M263.4 315.6h0.9M242.3 318.5h0.9M227.8 317.1h0.9M306.5 279.7h0.9M253.1 272.2h0.9M254.9 337.4h0.9M229.2 321.6h0.9M251.3 271.0h0.9M271.7 315.0h0.9M292.0 312.6h0.9M250.3 269.3h0.9M260.9 317.3h0.9M277.5 316.3h0.9M248.9 272.3h0.9M293.9 316.7h0.9M240.0 318.0h0.9M271.4 270.5h0.9M272.2 277.4h0.9M235.3 267.4h0.9M304.9 302.1h0.9M295.8 275.2h0.9M280.0 315.5h0.9M241.1 268.6h0.9M269.5 317.6h0.9M250.1 320.5h0.9M285.9 277.9h0.9M271.7 278.7h0.9M229.6 268.0h0.9M289.1 314.2h0.9M292.2 271.2h0.9M288.9 274.9h0.9M285.3 277.8h0.9M300.7 281.8h0.9M263.4 274.5h0.9M260.2 316.1h0.9M293.9 312.9h0.9M299.3 280.9h0.9M248.5 264.8h0.9M227.2 267.6h0.9M226.6 318.1h0.9M299.9 282.2h0.9M289.6 312.3h0.9M269.7 314.9h0.9M264.6 316.4h0.9M265.3 275.4h0.9M255.0 329.1h0.9M226.4 271.6h0.9M274.6 313.6h0.9M240.1 264.8h0.9M264.5 322.1h0.9M294.0 310.6h0.9M290.0 276.2h0.9M280.5 277.0h0.9M274.1 278.6h0.9M274.0 279.0h0.9M293.7 261.5h0.9M275.9 272.5h0.9M229.4 269.4h0.9M268.4 265.6h0.9M281.3 274.3h0.9M286.3 314.2h0.9M245.7 319.4h0.9M307.3 308.5h0.9M271.9 277.0h0.9M309.4 292.6h0.9M310.1 294.3h0.9M305.8 304.5h0.9M294.5 314.0h0.9M295.5 314.4h0.9M254.9 268.9h0.9M288.1 312.0h0.9M256.1 323.6h0.9M235.7 318.7h0.9M249.5 270.3h0.9M268.2 264.9h0.9M256.2 321.8h0.9M286.3 274.7h0.9M289.6 315.1h0.9M232.2 319.0h0.9M254.6 269.5h0.9M248.2 326.6h0.9M257.4 269.8h0.9M237.4 320.4h0.9M241.3 320.7h0.9M249.7 272.4h0.9M302.6 277.3h0.9M280.2 278.3h0.9M295.7 276.3h0.9M299.5 306.8h0.9M302.9 304.8h0.9M291.1 277.4h0.9M307.2 292.1h0.9M260.1 269.1h0.9M230.7 319.2h0.9M256.3 316.6h0.9M276.7 276.7h0.9M242.7 270.3h0.9M273.0 317.4h0.9M262.0 319.0h0.9M226.8 269.7h0.9M242.2 319.0h0.9M297.1 308.5h0.9M272.3 319.2h0.9M297.3 275.9h0.9M224.7 268.7h0.9M305.3 295.9h0.9M295.5 318.0h0.9M255.3 258.4h0.9M246.2 265.1h0.9M287.1 319.6h0.9M258.9 273.2h0.9M223.1 268.4h0.9M237.6 318.4h0.9M233.8 331.3h0.9M282.8 278.4h0.9M237.4 266.3h0.9M271.4 314.7h0.9M248.3 324.1h0.9M290.1 313.1h0.9M275.2 276.2h0.9M224.5 266.9h0.9M227.3 318.7h0.9M259.1 317.9h0.9M246.1 271.6h0.9M297.2 310.6h0.9M280.4 278.0h0.9M255.8 274.8h0.9M266.9 316.8h0.9M287.2 312.0h0.9M233.3 268.8h0.9M232.3 264.9h0.9M235.9 257.5h0.9M228.3 321.0h0.9M294.7 310.0h0.9M281.6 312.4h0.9M305.3 298.3h0.9M279.1 312.7h0.9M245.8 267.1h0.9M276.3 314.4h0.9M306.8 290.2h0.9M244.8 322.0h0.9M305.4 288.6h0.9M278.7 273.9h0.9M265.6 275.5h0.9M283.2 277.9h0.9M296.9 309.0h0.9M288.2 272.4h0.9M247.3 318.2h0.9M252.4 322.4h0.9M260.0 317.2h0.9M253.6 320.0h0.9M238.2 323.5h0.9M243.0 321.5h0.9M241.7 323.3h0.9M252.3 269.9h0.9M242.8 320.9h0.9M253.5 260.9h0.9M231.8 266.6h0.9M255.4 320.9h0.9M288.9 278.0h0.9M300.5 280.9h0.9M238.5 270.0h0.9M223.3 260.2h0.9M269.9 322.9h0.9M260.3 275.4h0.9M247.7 263.4h0.9M291.5 311.6h0.9M265.3 273.4h0.9M295.4 278.7h0.9M271.0 313.9h0.9M259.0 268.1h0.9M225.9 321.0h0.9M243.1 269.1h0.9M303.3 284.8h0.9M305.4 300.9h0.9M223.4 317.0h0.9M280.9 271.1h0.9M306.1 297.7h0.9M251.1 318.6h0.9M241.5 329.8h0.9M251.7 317.9h0.9M231.9 269.2h0.9M225.6 325.0h0.9M271.7 276.1h0.9M292.9 311.9h0.9M263.8 319.5h0.9M279.3 278.3h0.9M257.4 273.4h0.9M307.0 291.2h0.9M281.2 275.8h0.9M311.0 291.3h0.9M245.9 257.5h0.9M253.1 269.4h0.9M259.9 276.4h0.9M264.5 315.3h0.9M283.1 312.6h0.9M271.0 278.9h0.9M246.8 317.5h0.9M289.4 313.4h0.9M242.0 269.6h0.9M226.6 324.9h0.9M284.8 322.2h0.9M289.0 271.7h0.9M299.9 308.8h0.9M240.7 270.3h0.9M311.2 287.8h0.9M231.3 334.1h0.9M249.9 317.6h0.9M237.6 264.8h0.9M263.1 277.5h0.9M276.7 318.2h0.9M285.4 313.6h0.9M271.3 278.6h0.9M238.6 267.1h0.9M228.3 260.6h0.9M289.5 314.6h0.9M236.3 269.4h0.9M245.1 270.5h0.9M273.7 317.5h0.9M225.4 319.7h0.9M231.1 265.9h0.9M236.6 321.9h0.9M265.8 278.0h0.9M244.3 256.4h0.9M240.3 268.7h0.9M288.6 314.8h0.9M226.7 327.5h0.9M304.0 299.3h0.9M251.9 317.0h0.9M243.0 318.0h0.9M280.6 315.2h0.9M296.7 311.0h0.9M265.0 316.6h0.9M260.4 259.6h0.9M305.0 296.8h0.9M299.5 306.6h0.9M239.2 266.4h0.9M309.3 296.2h0.9M273.5 313.6h0.9M225.2 271.7h0.9M287.6 312.2h0.9M226.2 317.2h0.9M265.3 278.3h0.9M282.0 278.4h0.9M254.7 272.5h0.9M258.4 325.9h0.9M253.0 317.4h0.9M283.9 278.3h0.9M268.4 278.6h0.9M302.4 304.2h0.9M305.2 300.0h0.9M311.3 302.7h0.9M269.5 315.8h0.9M225.5 271.7h0.9M277.3 270.3h0.9M284.2 315.7h0.9M235.5 267.9h0.9M249.7 265.1h0.9M266.2 276.8h0.9M257.6 319.2h0.9M229.5 317.8h0.9M227.8 319.4h0.9M289.7 273.0h0.9M266.3 317.5h0.9M238.6 319.7h0.9M226.0 322.3h0.9M292.6 313.9h0.9M303.5 302.7h0.9M237.9 318.1h0.9M269.3 314.6h0.9M233.1 318.7h0.9M300.6 276.6h0.9M247.2 269.9h0.9M231.6 317.7h0.9M304.6 299.9h0.9M270.1 322.4h0.9M236.1 268.2h0.9M287.5 316.3h0.9M268.2 322.0h0.9M279.0 279.0h0.9M266.1 315.5h0.9M237.9 320.4h0.9M292.0 274.6h0.9M242.6 262.6h0.9M304.6 297.3h0.9M224.3 268.0h0.9M246.6 320.6h0.9M294.3 319.6h0.9M280.0 316.2h0.9M279.1 278.5h0.9M227.2 321.1h0.9M305.3 296.4h0.9M257.8 329.4h0.9M235.8 269.9h0.9M254.7 268.8h0.9M240.4 321.5h0.9M304.1 299.3h0.9M268.4 316.4h0.9M278.6 315.0h0.9M281.0 278.7h0.9M275.8 315.7h0.9M279.8 278.1h0.9M292.4 275.2h0.9M256.4 273.3h0.9M268.3 274.4h0.9M277.9 278.6h0.9M240.7 269.7h0.9M236.7 265.3h0.9M226.0 320.9h0.9M295.9 309.0h0.9M240.9 266.2h0.9M294.7 278.9h0.9M242.3 319.1h0.9M229.6 318.7h0.9M260.9 316.9h0.9M256.7 270.2h0.9M242.0 320.1h0.9M266.5 322.6h0.9M295.0 278.6h0.9M250.4 264.0h0.9M272.0 276.4h0.9M264.6 270.0h0.9M224.2 271.1h0.9M291.7 313.7h0.9M276.4 279.3h0.9M289.6 312.6h0.9M285.5 312.2h0.9M271.1 318.4h0.9M275.6 270.1h0.9M264.2 314.8h0.9M258.2 322.1h0.9M250.1 317.3h0.9M251.6 321.4h0.9M274.7 314.2h0.9M227.6 319.2h0.9M239.1 269.8h0.9M306.5 295.5h0.9M279.3 274.6h0.9M243.3 270.1h0.9M263.3 315.7h0.9M278.8 276.1h0.9M265.7 273.5h0.9M282.4 314.4h0.9M241.7 320.5h0.9M264.2 315.4h0.9M244.9 267.0h0.9M309.5 283.2h0.9M286.1 277.2h0.9M275.2 271.3h0.9M248.2 326.7h0.9M257.8 271.6h0.9M256.0 320.1h0.9M304.2 303.4h0.9M251.9 273.2h0.9M232.5 323.9h0.9M239.2 319.1h0.9M303.5 285.5h0.9M238.3 319.4h0.9M246.3 332.6h0.9M266.3 322.5h0.9M271.4 276.3h0.9M296.4 268.6h0.9M306.5 289.9h0.9M250.6 320.8h0.9M302.0 278.7h0.9M244.7 321.1h0.9M284.4 278.6h0.9M259.8 275.2h0.9M279.6 278.3h0.9M256.5 272.1h0.9M238.7 318.0h0.9M294.0 316.5h0.9M303.8 302.2h0.9M301.9 306.7h0.9M226.1 318.6h0.9M232.2 318.5h0.9M260.7 318.4h0.9M266.0 268.5h0.9M223.6 317.8h0.9M299.9 307.4h0.9M306.7 297.4h0.9M284.5 319.9h0.9M287.0 276.3h0.9M251.0 270.0h0.9M238.2 319.5h0.9M293.5 319.1h0.9M278.4 322.6h0.9M281.3 274.5h0.9M291.4 277.0h0.9M272.3 313.7h0.9M289.0 269.7h0.9M251.0 266.7h0.9M276.3 278.8h0.9M275.7 314.0h0.9M234.0 265.3h0.9M257.6 318.1h0.9M306.1 295.6h0.9M251.3 271.5h0.9M278.1 270.1h0.9M236.6 269.1h0.9M241.4 268.0h0.9M307.3 288.1h0.9M247.2 317.7h0.9M250.0 319.9h0.9M231.0 324.0h0.9M281.4 277.1h0.9M231.3 267.6h0.9M295.8 275.5h0.9M270.2 279.2h0.9M248.2 266.5h0.9M303.7 286.7h0.9M239.5 323.7h0.9M248.9 268.6h0.9M260.4 320.9h0.9M240.4 268.2h0.9M304.0 287.2h0.9M287.8 264.9h0.9M276.7 312.9h0.9M259.1 275.4h0.9M234.0 328.8h0.9M249.5 271.5h0.9M251.9 329.6h0.9M224.7 259.3h0.9M266.1 271.0h0.9M303.3 285.9h0.9M272.4 314.5h0.9M256.9 272.3h0.9M249.7 322.1h0.9M303.4 274.5h0.9M280.1 320.0h0.9M254.4 318.9h0.9M271.8 314.2h0.9M249.6 317.3h0.9M230.2 266.5h0.9M297.9 277.6h0.9M271.4 319.2h0.9M245.2 265.2h0.9M269.2 277.7h0.9M270.6 314.2h0.9M261.5 264.7h0.9M237.8 263.7h0.9M285.5 318.7h0.9M226.0 321.5h0.9M231.9 263.4h0.9M245.2 321.6h0.9M308.9 295.5h0.9M271.3 271.8h0.9M222.7 327.1h0.9M235.0 269.4h0.9M236.4 320.8h0.9M307.7 288.1h0.9M225.1 320.8h0.9M277.5 313.2h0.9M303.9 277.7h0.9M236.2 318.4h0.9M303.2 284.9h0.9M260.1 318.5h0.9M228.7 260.4h0.9M290.3 274.9h0.9M267.8 276.4h0.9M259.5 274.8h0.9M302.3 283.7h0.9M293.0 277.4h0.9M281.2 276.6h0.9M256.9 274.4h0.9M239.9 322.1h0.9M293.6 278.6h0.9M282.1 316.8h0.9M248.1 267.0h0.9M301.4 306.2h0.9M298.3 309.5h0.9M233.1 255.6h0.9M243.2 262.7h0.9M304.2 310.0h0.9M239.4 318.8h0.9M283.9 277.5h0.9M267.0 319.9h0.9M305.8 294.2h0.9M243.6 266.6h0.9M277.8 278.8h0.9M306.2 292.6h0.9M302.7 305.6h0.9M254.8 317.6h0.9M240.9 263.3h0.9M251.3 320.5h0.9M292.8 310.9h0.9M303.7 300.4h0.9M238.3 267.5h0.9M232.9 267.2h0.9M297.2 307.9h0.9M257.9 316.1h0.9M256.7 320.5h0.9M269.1 270.4h0.9M261.6 271.9h0.9M246.4 317.9h0.9M223.6 318.0h0.9M259.0 319.3h0.9M267.9 316.6h0.9M301.8 310.8h0.9M294.7 316.1h0.9M251.8 319.0h0.9M301.3 304.2h0.9M305.2 297.8h0.9M305.0 303.9h0.9M303.8 281.2h0.9M284.8 312.4h0.9M276.2 279.0h0.9M305.8 289.8h0.9M272.7 278.1h0.9M304.6 298.3h0.9M294.8 312.5h0.9M227.1 326.1h0.9M226.7 321.2h0.9M266.5 276.5h0.9M254.7 271.5h0.9M277.3 278.2h0.9M261.1 316.5h0.9M239.6 267.6h0.9M243.3 262.8h0.9M253.9 260.5h0.9M245.6 321.0h0.9M238.7 265.3h0.9M229.4 263.2h0.9M224.8 332.4h0.9M248.8 326.4h0.9M285.7 316.6h0.9M233.1 321.6h0.9M294.9 270.2h0.9M238.8 269.9h0.9M248.2 321.0h0.9M261.7 269.8h0.9M244.5 268.8h0.9M275.7 313.9h0.9M233.4 268.3h0.9M271.1 270.1h0.9M246.4 321.2h0.9M262.6 275.5h0.9M304.9 290.0h0.9M243.8 318.7h0.9M268.6 322.0h0.9M265.8 315.0h0.9M233.8 258.5h0.9M226.6 270.1h0.9M300.4 309.3h0.9M271.3 275.3h0.9M291.6 275.2h0.9M272.4 313.9h0.9M238.6 269.0h0.9M305.1 286.5h0.9M260.1 318.4h0.9M263.6 269.3h0.9M288.9 275.0h0.9M266.7 266.5h0.9M265.9 273.3h0.9M228.5 319.5h0.9M288.2 317.2h0.9M298.4 310.1h0.9M259.2 316.1h0.9M283.0 316.5h0.9M255.5 268.1h0.9M226.4 269.0h0.9M298.3 312.9h0.9M268.0 315.8h0.9M280.6 275.7h0.9M281.6 278.1h0.9M233.0 270.1h0.9M260.0 276.1h0.9M230.9 264.3h0.9M278.0 274.3h0.9M278.2 276.9h0.9M268.0 269.7h0.9M312.7 286.7h0.9M223.5 318.5h0.9M298.1 278.3h0.9M281.7 313.2h0.9M306.6 304.3h0.9M247.5 267.1h0.9M249.4 329.4h0.9M289.2 317.1h0.9M279.1 315.3h0.9M224.5 330.8h0.9M252.8 273.3h0.9M265.5 273.4h0.9M246.8 265.9h0.9M295.0 320.0h0.9M244.2 319.3h0.9M226.4 317.0h0.9M243.9 321.1h0.9M248.1 268.4h0.9M242.0 269.8h0.9M293.4 277.1h0.9M287.8 314.1h0.9M259.5 263.7h0.9M223.4 318.7h0.9M238.5 269.5h0.9M251.7 317.5h0.9M275.9 315.0h0.9M237.4 269.5h0.9M270.9 275.3h0.9M291.7 277.4h0.9M245.2 270.7h0.9M281.9 278.2h0.9M235.5 261.1h0.9M246.7 260.0h0.9M307.9 294.7h0.9M256.5 274.0h0.9M252.4 322.5h0.9M292.8 275.5h0.9M239.9 320.3h0.9M292.8 275.2h0.9M235.4 257.6h0.9M279.4 312.9h0.9M293.0 318.8h0.9M239.8 269.7h0.9M307.0 286.6h0.9M228.5 265.3h0.9M255.7 273.8h0.9M294.8 311.3h0.9M288.8 313.4h0.9M237.6 318.2h0.9M273.6 277.8h0.9M279.6 271.6h0.9M258.8 317.4h0.9M276.9 274.0h0.9M244.5 267.1h0.9M240.7 318.4h0.9M251.2 319.2h0.9M309.2 293.1h0.9M309.3 301.6h0.9M243.9 268.6h0.9M269.8 276.8h0.9M297.5 278.1h0.9M276.7 278.2h0.9M230.1 323.5h0.9M249.6 318.2h0.9M232.2 268.5h0.9M236.1 264.7h0.9M228.9 263.6h0.9M252.4 318.0h0.9M236.7 268.0h0.9M260.9 276.4h0.9M239.6 324.7h0.9M274.2 313.7h0.9M239.3 321.1h0.9M248.8 321.8h0.9M230.1 318.3h0.9M244.6 319.5h0.9M279.9 275.9h0.9M264.5 262.1h0.9M283.8 268.4h0.9M271.2 263.1h0.9M295.1 279.2h0.9M297.5 307.9h0.9M269.9 317.7h0.9M305.9 274.1h0.9M238.2 269.1h0.9M263.2 271.0h0.9M263.8 318.9h0.9M236.5 324.8h0.9M223.0 272.7h0.9M302.5 281.3h0.9M264.5 316.3h0.9M275.7 319.2h0.9M301.1 305.5h0.9M306.4 298.0h0.9M292.5 277.1h0.9M281.4 314.6h0.9M264.0 266.5h0.9M297.7 280.6h0.9M231.6 321.7h0.9M274.5 265.1h0.9M262.3 275.3h0.9M260.3 272.9h0.9M263.7 277.8h0.9M291.8 276.7h0.9M295.9 311.2h0.9M290.6 312.1h0.9M241.3 322.9h0.9M264.1 276.5h0.9M237.1 269.6h0.9M240.5 319.2h0.9M276.7 325.4h0.9M234.0 330.3h0.9M243.4 258.1h0.9M223.3 265.2h0.9M242.8 325.2h0.9M251.0 269.6h0.9M268.8 279.3h0.9M305.5 303.8h0.9M257.2 274.0h0.9M292.2 277.2h0.9M236.8 319.1h0.9M278.9 313.8h0.9M280.3 271.3h0.9M240.1 318.1h0.9M280.7 278.1h0.9M266.8 314.9h0.9M290.1 313.2h0.9M241.7 259.6h0.9M231.2 319.0h0.9M269.0 274.7h0.9M272.5 272.6h0.9M248.6 271.2h0.9M306.0 286.2h0.9M268.2 278.4h0.9M269.3 277.0h0.9M249.9 271.0h0.9M285.2 277.9h0.9M290.6 274.7h0.9M300.2 305.3h0.9M252.1 322.1h0.9M249.3 269.3h0.9M292.5 267.6h0.9M229.1 267.7h0.9M227.6 318.7h0.9M265.4 314.8h0.9M260.0 316.2h0.9M283.5 278.7h0.9M299.2 307.6h0.9M224.6 258.0h0.9M264.1 319.5h0.9M295.7 277.9h0.9M291.0 278.3h0.9M282.7 322.1h0.9M275.9 313.6h0.9M286.4 312.5h0.9M258.3 274.9h0.9M252.4 272.3h0.9M298.7 307.0h0.9M270.1 314.8h0.9M260.4 319.6h0.9M258.7 316.1h0.9M269.1 274.4h0.9M225.4 316.9h0.9M225.7 339.3h0.9M241.7 264.1h0.9M260.8 320.9h0.9M261.9 276.3h0.9M271.4 276.3h0.9M244.7 319.0h0.9M297.0 311.9h0.9M293.0 310.8h0.9M257.7 265.4h0.9M252.5 321.2h0.9M236.5 267.0h0.9M244.4 319.2h0.9M269.2 315.9h0.9M246.3 270.8h0.9M255.9 265.6h0.9M277.5 271.3h0.9M259.8 322.1h0.9M280.6 277.8h0.9M245.3 271.2h0.9M297.7 273.9h0.9M280.4 278.9h0.9M305.9 296.9h0.9M232.9 266.2h0.9M314.1 294.2h0.9M237.4 317.8h0.9M262.2 317.3h0.9M292.3 278.2h0.9M226.1 268.2h0.9M305.3 297.6h0.9M235.9 323.0h0.9M226.9 260.8h0.9M274.3 313.6h0.9M237.7 269.5h0.9M235.9 267.8h0.9M280.2 319.8h0.9M306.1 296.6h0.9M297.9 308.9h0.9M277.2 313.2h0.9M260.2 322.1h0.9M231.7 270.6h0.9M258.0 317.1h0.9M297.3 308.8h0.9M284.8 317.2h0.9M286.5 270.0h0.9M296.8 309.9h0.9M249.7 267.2h0.9M265.7 316.6h0.9M286.3 311.6h0.9M281.1 322.5h0.9M268.9 314.7h0.9M287.8 311.1h0.9M269.0 276.3h0.9M246.9 317.5h0.9M290.7 277.3h0.9M228.2 326.1h0.9M290.2 311.8h0.9M224.2 271.4h0.9M274.7 315.7h0.9M227.4 321.9h0.9M232.1 269.1h0.9M302.1 306.1h0.9M232.4 267.2h0.9M233.1 270.1h0.9M286.4 275.1h0.9M251.1 272.0h0.9M270.2 314.7h0.9M253.6 273.8h0.9M269.5 319.7h0.9M246.8 317.6h0.9M271.6 279.4h0.9M282.7 269.3h0.9M298.2 308.7h0.9M256.1 272.3h0.9M248.9 270.3h0.9M241.3 318.0h0.9M243.1 323.6h0.9M301.0 281.9h0.9M245.3 325.3h0.9M260.5 271.4h0.9M234.4 319.8h0.9M266.9 324.5h0.9M242.3 269.4h0.9M262.9 274.0h0.9M286.3 312.0h0.9M297.5 308.6h0.9M284.8 272.0h0.9M304.2 304.7h0.9M279.0 275.0h0.9M298.7 271.4h0.9M303.0 303.2h0.9M281.9 278.3h0.9M304.6 297.4h0.9M270.7 279.1h0.9M253.9 272.2h0.9M261.6 317.5h0.9M305.3 304.3h0.9M280.8 276.6h0.9M293.8 309.8h0.9M235.1 325.5h0.9M270.5 275.3h0.9M253.3 317.9h0.9M258.1 269.6h0.9M223.0 321.0h0.9M229.1 270.9h0.9M224.6 318.5h0.9M275.1 278.5h0.9M243.2 265.9h0.9M305.3 287.5h0.9M278.6 277.7h0.9M283.2 272.6h0.9M250.3 271.9h0.9M241.6 266.4h0.9M292.6 271.8h0.9M250.6 271.5h0.9M287.6 268.9h0.9M237.9 269.7h0.9M231.9 318.7h0.9M256.1 269.0h0.9M294.4 309.2h0.9M255.7 274.8h0.9M230.9 320.0h0.9M282.8 312.8h0.9M279.5 312.7h0.9M269.3 273.1h0.9M275.2 276.0h0.9M259.0 316.4h0.9M291.2 311.3h0.9M292.4 321.7h0.9M304.0 303.0h0.9M303.6 301.9h0.9M288.7 312.0h0.9M293.5 271.9h0.9M257.1 317.2h0.9M229.8 320.2h0.9M242.9 258.3h0.9M246.2 268.2h0.9M280.9 278.7h0.9M224.2 268.3h0.9M255.8 320.4h0.9M277.6 317.5h0.9M302.0 303.3h0.9M225.5 319.3h0.9M275.6 312.9h0.9M265.5 276.7h0.9M223.5 270.1h0.9M295.4 314.0h0.9M294.9 275.8h0.9M260.9 276.5h0.9M245.1 317.7h0.9M227.7 318.0h0.9M272.3 317.5h0.9M252.1 268.0h0.9M225.4 270.3h0.9M251.3 333.1h0.9M222.4 317.8h0.9M233.5 264.8h0.9M276.2 279.3h0.9M253.6 269.0h0.9M231.9 320.4h0.9M260.4 275.1h0.9M245.2 267.6h0.9M306.7 293.9h0.9M287.4 275.2h0.9M236.6 319.4h0.9M296.2 276.5h0.9M306.5 298.0h0.9M224.3 272.3h0.9M274.2 279.1h0.9M233.3 318.0h0.9M252.4 272.6h0.9M306.9 305.7h0.9M289.8 313.5h0.9M286.3 319.8h0.9M304.8 283.3h0.9M257.5 316.3h0.9M273.7 315.4h0.9M237.0 270.1h0.9M222.8 321.3h0.9M262.0 272.9h0.9M314.6 272.0h0.9M246.4 271.6h0.9M310.9 286.1h0.9M255.9 272.0h0.9M249.1 317.9h0.9M258.2 274.6h0.9M243.1 323.1h0.9M305.3 302.8h0.9M257.0 273.4h0.9M224.7 270.8h0.9M250.4 317.6h0.9M274.4 274.2h0.9M257.4 271.0h0.9M240.6 268.7h0.9M246.3 319.3h0.9M231.1 324.3h0.9M278.5 278.1h0.9M258.8 262.0h0.9M271.7 317.5h0.9M229.4 264.3h0.9M276.7 275.8h0.9M306.8 295.4h0.9M263.1 318.5h0.9M292.4 313.4h0.9M223.8 317.9h0.9M237.5 267.9h0.9M257.2 275.3h0.9M291.7 310.4h0.9M255.8 274.4h0.9M260.6 264.7h0.9M275.1 314.5h0.9M282.4 277.0h0.9M230.9 318.3h0.9M223.9 320.3h0.9M295.5 313.1h0.9M266.4 324.8h0.9M294.1 276.1h0.9M249.5 319.8h0.9M305.3 292.6h0.9M230.4 321.3h0.9M243.9 319.3h0.9M233.4 319.2h0.9M230.5 268.8h0.9M302.4 303.4h0.9M281.7 312.1h0.9M258.0 316.3h0.9M260.7 317.5h0.9M301.1 282.8h0.9M228.0 270.9h0.9M232.4 269.1h0.9M275.4 319.0h0.9M265.7 315.5h0.9M227.2 323.2h0.9M289.2 275.8h0.9M235.0 318.2h0.9M260.5 275.8h0.9M247.0 321.2h0.9M249.4 322.2h0.9M282.0 272.3h0.9M294.4 318.5h0.9M234.6 325.2h0.9M233.0 321.6h0.9M257.9 318.4h0.9M234.7 264.4h0.9M287.4 317.4h0.9M230.0 320.2h0.9M246.7 270.5h0.9M297.0 310.0h0.9M270.7 279.4h0.9M240.7 269.9h0.9M265.1 275.5h0.9M282.4 270.9h0.9M241.5 320.4h0.9M309.6 299.8h0.9M246.8 267.3h0.9M223.6 271.9h0.9M294.7 311.9h0.9M234.6 322.6h0.9M241.2 324.7h0.9M309.0 291.6h0.9M242.0 270.0h0.9M234.6 269.2h0.9M231.0 268.4h0.9M281.4 318.3h0.9M273.3 278.8h0.9M263.8 275.4h0.9M259.6 268.4h0.9M279.9 327.2h0.9M286.5 318.7h0.9M286.9 313.8h0.9M285.1 335.7h0.9M267.0 327.0h0.9M269.5 316.6h0.9M276.1 270.3h0.9M278.6 312.9h0.9M289.7 275.4h0.9M289.6 277.1h0.9M271.1 276.8h0.9M225.9 266.5h0.9M258.0 273.1h0.9M241.5 269.0h0.9M256.4 261.4h0.9M265.1 277.1h0.9M253.6 273.5h0.9M251.3 269.0h0.9M243.7 321.4h0.9M248.5 269.2h0.9M240.7 268.4h0.9M305.4 289.0h0.9M310.0 306.8h0.9M277.9 276.8h0.9M260.8 316.2h0.9M267.1 275.6h0.9M235.1 319.9h0.9M256.4 317.3h0.9M228.3 270.2h0.9M272.9 315.5h0.9M224.0 268.2h0.9M228.0 264.3h0.9M249.2 323.6h0.9M276.6 315.2h0.9M278.2 276.2h0.9M236.3 321.4h0.9M283.0 314.7h0.9M242.1 329.9h0.9M254.0 263.5h0.9M286.0 311.8h0.9M289.0 315.8h0.9M302.8 285.1h0.9M249.0 317.6h0.9M279.5 314.3h0.9M283.2 273.6h0.9M265.5 277.6h0.9M251.5 272.1h0.9M230.4 267.0h0.9M302.1 281.5h0.9M287.7 273.4h0.9M293.6 313.7h0.9M284.1 313.9h0.9M297.6 280.8h0.9M225.8 268.3h0.9M241.5 317.9h0.9M258.3 318.7h0.9M227.8 320.0h0.9M241.9 267.7h0.9" stroke="#000" stroke-width="0.9"/>
<clipPath id="cpB"><path d="M222.8 277.6C230 275.2 236 273.8 241 273.6C249 274.2 252 276 255.8 276.9C259 279 263 282 267.3 283.8C270 284.6 273 284.7 276.5 284.4C280 283.2 284 281.6 288.1 281.5C292 281.4 295.5 282.6 298.4 285C301.5 287.5 303.2 290 303.6 293.1C303.4 296.5 302 299 299.6 301.1C297 303.2 294.5 304.4 291.5 304.6C288 304.6 284 303.2 280 302.3C276 302.4 272 303.3 267.3 304C263 304.8 259 305.8 255.8 306.9C248 309 240 310.6 232 311.6L222.8 312Z"/></clipPath>
<path d="M222.8 277.6C230 275.2 236 273.8 241 273.6C249 274.2 252 276 255.8 276.9C259 279 263 282 267.3 283.8C270 284.6 273 284.7 276.5 284.4C280 283.2 284 281.6 288.1 281.5C292 281.4 295.5 282.6 298.4 285C301.5 287.5 303.2 290 303.6 293.1C303.4 296.5 302 299 299.6 301.1C297 303.2 294.5 304.4 291.5 304.6C288 304.6 284 303.2 280 302.3C276 302.4 272 303.3 267.3 304C263 304.8 259 305.8 255.8 306.9C248 309 240 310.6 232 311.6L222.8 312Z" fill="#c6c6c6"/>
<g clip-path="url(#cpB)"><g filter="url(#bl3)">
<path d="M222 293C240 293 260 293.5 275 293.5C285 293.5 292 293 300 293" stroke="#1e1e1e" stroke-width="11" fill="none"/>
<ellipse cx="291.5" cy="292.8" rx="7.5" ry="7" fill="#111"/>
<path d="M258 294L278 294" stroke="#2a2a2a" stroke-width="14"/>
<path d="M222.8 282C228 280.4 234 279.8 240 280.2C246 281 251 284 254 291.2C251 298.5 246 301.8 240 302.8C234 303.6 228 303.2 222.8 301.5" fill="none" stroke="#2a2a2a" stroke-width="5"/>
</g></g>
<path d="M222.8 277.6C230 275.2 236 273.8 241 273.6C249 274.2 252 276 255.8 276.9C259 279 263 282 267.3 283.8C270 284.6 273 284.7 276.5 284.4C280 283.2 284 281.6 288.1 281.5C292 281.4 295.5 282.6 298.4 285C301.5 287.5 303.2 290 303.6 293.1C303.4 296.5 302 299 299.6 301.1C297 303.2 294.5 304.4 291.5 304.6C288 304.6 284 303.2 280 302.3C276 302.4 272 303.3 267.3 304C263 304.8 259 305.8 255.8 306.9C248 309 240 310.6 232 311.6L222.8 312Z" fill="none" stroke="#e6e6e6" stroke-width="1.1"/>
<path d="M222.8 282C228 280.4 234 279.8 240 280.2C246 281 251 284 254 291.2C251 298.5 246 301.8 240 302.8C234 303.6 228 303.2 222.8 301.5Z" fill="url(#sc)" stroke="#e8e8e8" stroke-width="1.1"/>
<path d="M226.8 290.9C227.2 286.5 231 283.8 236.5 283.8C242 283.8 246 286.5 247.6 290.9C246 295.5 242 298.1 236.5 298.1C231 298.1 227.2 295.5 226.8 290.9Z" fill="url(#sc)" stroke="#ececec" stroke-width="1.1"/>
<ellipse cx="237.4" cy="291" rx="5.4" ry="5.1" fill="url(#sc)" stroke="#f0f0f0" stroke-width="1.1"/>
<path d="M277.7 284.6V304.5" stroke="#333" stroke-width="1.2" stroke-dasharray="3 2"/>
<path d="M298.8 274C305 276.5 311 280 314.2 284.6C317.5 289 318.2 292 318 294.2C317.8 298.5 316.5 302 315.2 305.8C313 309 310.5 311 308.5 312.5" fill="none" stroke="#222" stroke-width="1.5" stroke-dasharray="4 2.6"/>
<text x="323.8" y="291.0" font-size="11.80" text-anchor="start" fill="#000" >R1</text>
<text x="322.9" y="306.0" font-size="13.10" text-anchor="start" fill="#606060" >7.6%</text>
<path d="M222.20 390.60v3.00M232.90 390.60v1.60M239.16 390.60v1.60M243.60 390.60v1.60M247.05 390.60v1.60M249.86 390.60v1.60M252.24 390.60v1.60M254.30 390.60v1.60M256.12 390.60v1.60M257.75 390.60v3.00M268.45 390.60v1.60M274.71 390.60v1.60M279.15 390.60v1.60M282.60 390.60v1.60M285.41 390.60v1.60M287.79 390.60v1.60M289.85 390.60v1.60M291.67 390.60v1.60M293.30 390.60v3.00M304.00 390.60v1.60M310.26 390.60v1.60M314.70 390.60v1.60M318.15 390.60v1.60M320.96 390.60v1.60M323.34 390.60v1.60M325.40 390.60v1.60M327.22 390.60v1.60M328.85 390.60v3.00M339.55 390.60v1.60M345.81 390.60v1.60M350.25 390.60v1.60M353.70 390.60v1.60M356.51 390.60v1.60M358.89 390.60v1.60M360.95 390.60v1.60M362.77 390.60v1.60M364.40 390.60v3.00" stroke="#333" stroke-width="0.60" fill="none"/>
<path d="M222.20 389.80h-3.00M222.20 379.25h-1.60M222.20 373.08h-1.60M222.20 368.70h-1.60M222.20 365.30h-1.60M222.20 362.53h-1.60M222.20 360.18h-1.60M222.20 358.15h-1.60M222.20 356.35h-1.60M222.20 354.75h-3.00M222.20 344.20h-1.60M222.20 338.03h-1.60M222.20 333.65h-1.60M222.20 330.25h-1.60M222.20 327.48h-1.60M222.20 325.13h-1.60M222.20 323.10h-1.60M222.20 321.30h-1.60M222.20 319.70h-3.00M222.20 309.15h-1.60M222.20 302.98h-1.60M222.20 298.60h-1.60M222.20 295.20h-1.60M222.20 292.43h-1.60M222.20 290.08h-1.60M222.20 288.05h-1.60M222.20 286.25h-1.60M222.20 284.65h-3.00M222.20 274.10h-1.60M222.20 267.93h-1.60M222.20 263.55h-1.60M222.20 260.15h-1.60M222.20 257.38h-1.60M222.20 255.03h-1.60M222.20 253.00h-1.60M222.20 251.20h-1.60M222.20 249.60h-3.00" stroke="#333" stroke-width="0.60" fill="none"/>
<path d="M222.2 390.6H364" stroke="#111" stroke-width="1.1"/>
<path d="M222.2 250V390.6" stroke="#666" stroke-width="1"/>
<text x="222.2" y="404.6" font-size="6.90" text-anchor="middle" font-family="Liberation Sans, sans-serif" font-weight="bold">10<tspan dy="-2.8" font-size="5.18">0</tspan></text>
<text x="216.9" y="392.6" font-size="6.90" text-anchor="end" font-family="Liberation Sans, sans-serif" font-weight="bold">10<tspan dy="-2.8" font-size="5.18">0</tspan></text>
<text x="257.8" y="404.6" font-size="6.90" text-anchor="middle" font-family="Liberation Sans, sans-serif" font-weight="bold">10<tspan dy="-2.8" font-size="5.18">1</tspan></text>
<text x="216.9" y="357.6" font-size="6.90" text-anchor="end" font-family="Liberation Sans, sans-serif" font-weight="bold">10<tspan dy="-2.8" font-size="5.18">1</tspan></text>
<text x="293.3" y="404.6" font-size="6.90" text-anchor="middle" font-family="Liberation Sans, sans-serif" font-weight="bold">10<tspan dy="-2.8" font-size="5.18">2</tspan></text>
<text x="216.9" y="322.5" font-size="6.90" text-anchor="end" font-family="Liberation Sans, sans-serif" font-weight="bold">10<tspan dy="-2.8" font-size="5.18">2</tspan></text>
<text x="328.8" y="404.6" font-size="6.90" text-anchor="middle" font-family="Liberation Sans, sans-serif" font-weight="bold">10<tspan dy="-2.8" font-size="5.18">3</tspan></text>
<text x="216.9" y="287.5" font-size="6.90" text-anchor="end" font-family="Liberation Sans, sans-serif" font-weight="bold">10<tspan dy="-2.8" font-size="5.18">3</tspan></text>
<text x="216.9" y="252.4" font-size="6.90" text-anchor="end" font-family="Liberation Sans, sans-serif" font-weight="bold">10<tspan dy="-2.8" font-size="5.18">4</tspan></text>
<path d="M364.4 250V391" stroke="#111" stroke-width="1.2"/>
<polygon points="412.0,390.6 416.0,390.0 420.1,388.0 424.0,386.5 428.7,384.5 432.0,381.5 435.5,376.7 437.5,370.0 439.0,363.0 440.5,355.0 442.4,345.9 444.0,332.0 445.8,318.5 447.5,301.4 449.2,286.0 451.0,270.5 452.5,263.0 453.7,258.6 455.0,263.0 456.8,270.5 458.2,286.0 459.5,301.4 460.4,318.0 461.2,335.6 462.0,350.0 463.0,363.0 464.7,378.4 466.4,387.0 468.1,390.6" fill="#000" stroke="#000" stroke-width="0.8"/>
<polyline points="364.7,308.5 366.6,305.7 367.9,293.4 369.1,287.7 370.4,288.7 371.3,274.5 372.3,267.0 373.6,263.2 374.7,267.9 376.0,259.4 377.4,258.5 378.9,259.4 380.4,267.9 381.7,274.5 382.6,281.1 384.0,287.7 385.5,306.6 387.9,329.2 389.5,336.0 391.0,346.0 393.0,360.0 395.0,372.0 396.5,380.0 398.0,386.0 400.0,389.6 403.0,390.4 420.0,390.6" fill="none" stroke="#000" stroke-width="1.3"/>
<path d="M364 390.8H506.4" stroke="#111" stroke-width="1.3"/>
<path d="M363.90 391.00v3.00M374.62 391.00v1.60M380.90 391.00v1.60M385.35 391.00v1.60M388.80 391.00v1.60M391.62 391.00v1.60M394.00 391.00v1.60M396.07 391.00v1.60M397.89 391.00v1.60M399.52 391.00v3.00M410.24 391.00v1.60M416.52 391.00v1.60M420.97 391.00v1.60M424.42 391.00v1.60M427.24 391.00v1.60M429.62 391.00v1.60M431.69 391.00v1.60M433.51 391.00v1.60M435.14 391.00v3.00M445.86 391.00v1.60M452.14 391.00v1.60M456.59 391.00v1.60M460.04 391.00v1.60M462.86 391.00v1.60M465.24 391.00v1.60M467.31 391.00v1.60M469.13 391.00v1.60M470.76 391.00v3.00M481.48 391.00v1.60M487.76 391.00v1.60M492.21 391.00v1.60M495.66 391.00v1.60M498.48 391.00v1.60M500.86 391.00v1.60M502.93 391.00v1.60M504.75 391.00v1.60M506.38 391.00v3.00" stroke="#333" stroke-width="0.60" fill="none"/>
<text x="363.9" y="404.6" font-size="6.90" text-anchor="middle" font-family="Liberation Sans, sans-serif" font-weight="bold">10<tspan dy="-2.8" font-size="5.18">0</tspan></text>
<text x="399.5" y="404.6" font-size="6.90" text-anchor="middle" font-family="Liberation Sans, sans-serif" font-weight="bold">10<tspan dy="-2.8" font-size="5.18">1</tspan></text>
<text x="435.1" y="404.6" font-size="6.90" text-anchor="middle" font-family="Liberation Sans, sans-serif" font-weight="bold">10<tspan dy="-2.8" font-size="5.18">2</tspan></text>
<text x="470.8" y="404.6" font-size="6.90" text-anchor="middle" font-family="Liberation Sans, sans-serif" font-weight="bold">10<tspan dy="-2.8" font-size="5.18">3</tspan></text>
<text x="506.4" y="404.6" font-size="6.90" text-anchor="middle" font-family="Liberation Sans, sans-serif" font-weight="bold">10<tspan dy="-2.8" font-size="5.18">4</tspan></text>
<text x="425.4" y="289.4" font-size="12.00" text-anchor="start" fill="#000" >R1</text>
<text x="472.6" y="280.0" font-size="12.40" text-anchor="middle" fill="#000" >140</text>
</g></svg>
</body></html>
